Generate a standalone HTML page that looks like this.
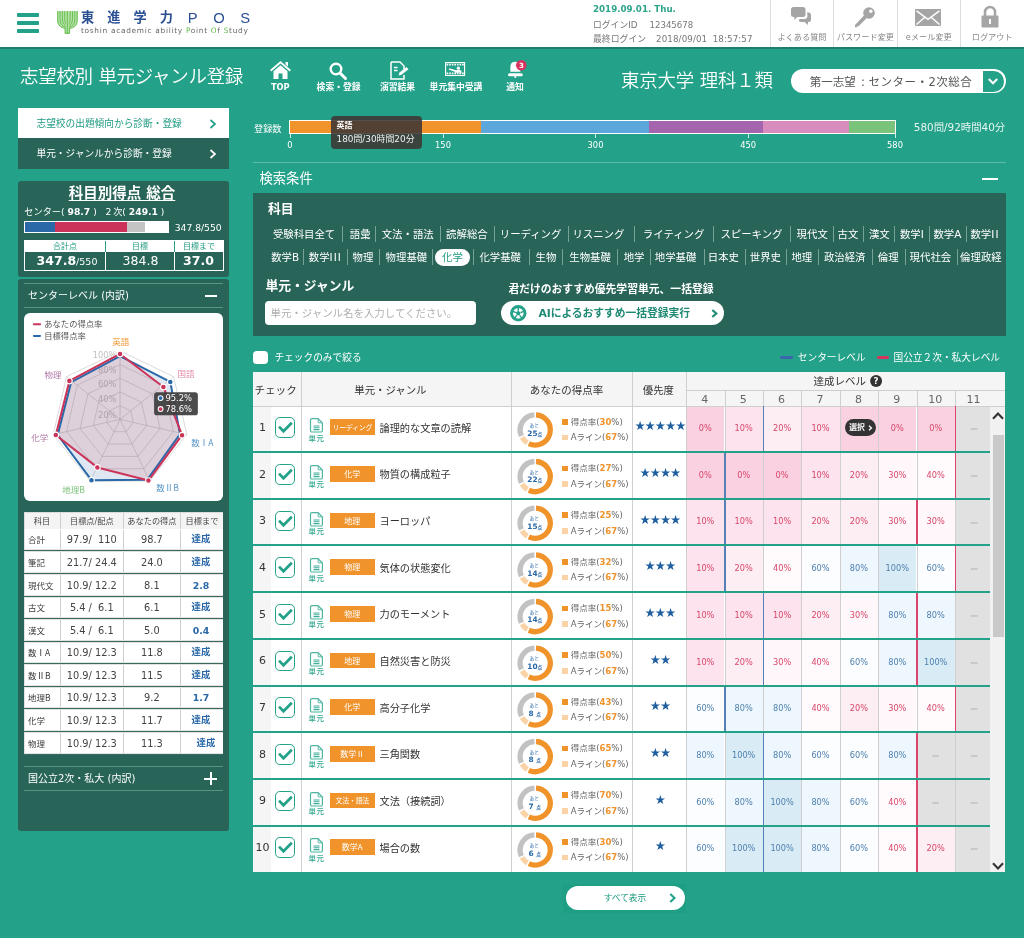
<!DOCTYPE html>
<html lang="ja"><head><meta charset="utf-8"><title>志望校別 単元ジャンル登録</title>
<style>
html,body{margin:0;padding:0}
body{width:1024px;height:938px;overflow:hidden;position:relative;background:#24a189;font-family:"DejaVu Sans","Liberation Sans","Noto Sans CJK JP",sans-serif;}
.t{position:absolute;white-space:nowrap}
.b{position:absolute;box-sizing:border-box}
svg{position:absolute;overflow:visible}
.j{font-family:"Noto Sans CJK JP",sans-serif}
.d{font-family:"DejaVu Sans","Liberation Sans",sans-serif}
</style></head><body>

<div class="b" style="left:0.0px;top:0.0px;width:1024.0px;height:46.5px;background:#fff;"></div>
<div class="b" style="left:0.0px;top:46.5px;width:1024.0px;height:2.0px;background:#1f7d6b;"></div>
<div class="b" style="left:17.0px;top:13.0px;width:21.5px;height:3.7px;background:#24a189;border-radius:.8px;"></div>
<div class="b" style="left:17.0px;top:21.1px;width:21.5px;height:3.7px;background:#24a189;border-radius:.8px;"></div>
<div class="b" style="left:17.0px;top:29.2px;width:21.5px;height:3.7px;background:#24a189;border-radius:.8px;"></div>
<svg style="left:56.700px;top:10.600px" width="20.900" height="22.650" viewBox="478 68 214 232"><path d="M478 68H692V152Q692 236 612 247V300H557V247Q478 236 478 152z" fill="#b5e2a8"/><g fill="none" stroke="#5fb946" stroke-width="9"><path d="M485 70V158Q485 240 565 246"/><path d="M685 70V158Q685 240 603 246"/><path d="M509 70V148Q509 224 565 230"/><path d="M661 70V148Q661 224 603 230"/><path d="M533 70V138Q533 208 565 214"/><path d="M637 70V138Q637 208 603 214"/><path d="M557 70V128Q557 192 565 198"/><path d="M613 70V128Q613 192 603 198"/><path d="M584 70V300"/><path d="M561 240V296H607V240"/></g></svg>
<div class="t " style="left:81.0px;top:9.3px;font-size:13.2px;line-height:18px;color:#2b4f93;font-weight:700;letter-spacing:13.1px;">東進学力</div>
<div class="t " style="left:187.7px;top:7.5px;font-size:14.8px;line-height:21px;color:#2b4f93;letter-spacing:15.6px;font-family:Liberation Sans,sans-serif;">POS</div>
<div class="t " style="left:81.0px;top:26.2px;font-size:7.4px;line-height:10px;color:#666;letter-spacing:.7px;">toshin academic ability <span style="color:#5fb946">P</span>oint <span style="color:#5fb946">O</span>f <span style="color:#5fb946">S</span>tudy</div>
<div class="t " style="left:593.0px;top:3.4px;font-size:8.7px;line-height:12px;color:#2fa38b;font-weight:700;">2019.09.01. Thu.</div>
<div class="t " style="left:593.0px;top:19.2px;font-size:8.8px;line-height:12px;color:#777;">ログインID</div>
<div class="t " style="left:649.5px;top:19.2px;font-size:8.6px;line-height:12px;color:#777;">12345678</div>
<div class="t " style="left:593.0px;top:32.5px;font-size:8.9px;line-height:12px;color:#777;">最終ログイン</div>
<div class="t " style="left:656.0px;top:32.5px;font-size:8.7px;line-height:12px;color:#777;word-spacing:2.5px;letter-spacing:.12px;">2018/09/01 18:57:57</div>
<div class="b" style="left:769.8px;top:0.0px;width:1.0px;height:46.5px;background:#ddd;"></div>
<div class="b" style="left:833.3px;top:0.0px;width:1.0px;height:46.5px;background:#ddd;"></div>
<div class="b" style="left:896.8px;top:0.0px;width:1.0px;height:46.5px;background:#ddd;"></div>
<div class="b" style="left:959.8px;top:0.0px;width:1.0px;height:46.5px;background:#ddd;"></div>
<div class="t " style="left:802.0px;transform:translateX(-50%);top:32.1px;font-size:8.2px;line-height:11px;color:#888;">よくある質問</div>
<div class="t " style="left:865.4px;transform:translateX(-50%);top:32.1px;font-size:8.2px;line-height:11px;color:#888;">パスワード変更</div>
<div class="t " style="left:928.8px;transform:translateX(-50%);top:32.1px;font-size:8.2px;line-height:11px;color:#888;">eメール変更</div>
<div class="t " style="left:992.2px;transform:translateX(-50%);top:32.1px;font-size:8.2px;line-height:11px;color:#888;">ログアウト</div>
<svg style="left:791px;top:7px" width="22" height="20" viewBox="0 0 22 20"><g fill="#a5a5a5">
<path d="M2.5 0h9.5a2.5 2.5 0 0 1 2.500 2.500v5a2.500 2.500 0 0 1-2.500 2.500h-5.500l-3.200 2.800v-2.800h-.8a2.500 2.500 0 0 1-2.500-2.500v-5a2.500 2.500 0 0 1 2.500-2.500z"/>
<path d="M16 5.500h1.500a2.500 2.500 0 0 1 2.500 2.500v4.500a2.500 2.500 0 0 1-2.500 2.500h-.5v3l-3.400-3h-3.600a2.500 2.500 0 0 1-2.400-1.800l1.200-1.100h4.200a3.500 3.500 0 0 0 3.500-3.500z"/></g></svg>
<svg style="left:854px;top:7px" width="22" height="21" viewBox="0 0 22 21"><g fill="#a5a5a5">
<circle cx="15" cy="6" r="5.800"/><path d="M10.200 8.300l2.600 2.600-8.300 8.300-1.200-.2-.1 1.300h-2.200v-2.200z"/></g><circle cx="16.800" cy="4.300" r="1.700" fill="#fff"/></svg>
<svg style="left:915px;top:9px" width="26" height="17" viewBox="0 0 26 17"><rect width="26" height="17" rx="1" fill="#a5a5a5"/>
<path d="M1.500 1.800l11.500 8.600 11.500-8.600M1.500 15.500l8.300-7.200M24.500 15.500l-8.300-7.200" fill="none" stroke="#fff" stroke-width="1.500"/></svg>
<svg style="left:981px;top:6px" width="18" height="22" viewBox="0 0 18 22"><path d="M4 10v-4a5 5 0 0 1 10 0v4" fill="none" stroke="#a5a5a5" stroke-width="2.600"/>
<rect x="0.500" y="9.500" width="17" height="12" rx="1" fill="#a5a5a5"/><rect x="8" y="13" width="2" height="5" fill="#fff"/></svg>
<div class="t " style="left:20.0px;top:63.5px;font-size:18.5px;line-height:26px;color:#fff;font-weight:350;letter-spacing:-.3px;">志望校別 単元ジャンル登録</div>
<div class="t " style="left:280.3px;transform:translateX(-50%);top:81.0px;font-size:8.3px;line-height:12px;color:#fff;font-weight:700;">TOP</div>
<div class="t " style="left:338.6px;transform:translateX(-50%);top:81.0px;font-size:8.8px;line-height:12px;color:#fff;font-weight:700;">検索・登録</div>
<div class="t " style="left:397.5px;transform:translateX(-50%);top:81.0px;font-size:8.8px;line-height:12px;color:#fff;font-weight:700;">演習結果</div>
<div class="t " style="left:456.0px;transform:translateX(-50%);top:81.0px;font-size:8.8px;line-height:12px;color:#fff;font-weight:700;">単元集中受講</div>
<div class="t " style="left:515.0px;transform:translateX(-50%);top:81.0px;font-size:8.8px;line-height:12px;color:#fff;font-weight:700;">通知</div>
<svg style="left:270px;top:61px" width="21" height="18" viewBox="0 0 21 18"><g fill="#fff">
<path d="M10.500 0l10.500 9-1.300 1.500-9.200-7.900-9.200 7.900-1.300-1.500z"/><path d="M15.500 1h2.500v4.500l-2.500-2.200z"/>
<path d="M10.500 4.300l7 6v7.700h-5v-5.500h-4v5.500h-5v-7.700z"/></g></svg>
<svg style="left:329px;top:62px" width="18" height="18" viewBox="0 0 18 18"><circle cx="7" cy="7" r="5.300" fill="none" stroke="#fff" stroke-width="2.400"/><path d="M11 11l5.500 5.500" stroke="#fff" stroke-width="3" stroke-linecap="round"/></svg>
<svg style="left:390px;top:61px" width="20" height="19" viewBox="0 0 20 19"><path d="M1 1h9l4 4v4M14 14v4h-13v-17" fill="none" stroke="#fff" stroke-width="1.500"/>
<path d="M4 6.500h3.500M4 9.500h3.500" stroke="#fff" stroke-width="1.400"/><path d="M8.500 14.500l1-3 7-5.500 2 2.200-7 5.500z" fill="#fff"/></svg>
<svg style="left:445.400px;top:62px" width="20.160" height="14.060" viewBox="200 68 172 120"><rect x="205" y="73" width="162" height="110" fill="none" stroke="#fff" stroke-width="10"/>
<path d="M214 91h146M214 166h146" stroke="#fff" stroke-width="15" stroke-dasharray="14 8"/>
<circle cx="314" cy="121" r="14" fill="#fff"/><path d="M284 160l4-20q26-10 50 0l5 20z" fill="#fff"/><path d="M236 121l58 17-3 15-58-19z" fill="#fff"/></svg>
<svg style="left:508.100px;top:61px" width="15.230" height="17.580" viewBox="735 55 130 150"><g fill="#fff"><path d="M755 147V108Q755 62 797 62Q840 62 840 108V147z"/>
<circle cx="797" cy="191" r="9"/></g><rect x="735" y="160" width="126" height="26" rx="13" fill="#fff"/>
<circle cx="848" cy="92" r="45" fill="#d8345f"/></svg>
<div class="t " style="left:521.5px;transform:translateX(-50%);top:60.5px;font-size:7px;line-height:10px;color:#fff;font-weight:700;">3</div>
<div class="t " style="left:621.0px;top:68.2px;font-size:18.4px;line-height:26px;color:#fff;font-weight:350;letter-spacing:-.15px;">東京大学 理科１類</div>
<div class="b" style="left:790.7px;top:69.2px;width:215.2px;height:24.2px;background:#fff;border-radius:12.1px;"></div>
<div class="t " style="left:809.8px;top:73.6px;font-size:11.5px;line-height:16px;color:#555;">第一志望 <span style="margin:0 3.600px 0 1.500px">:</span><span style="letter-spacing:.5px">センター・2次総合</span></div>
<div class="b" style="left:983.2px;top:71.0px;width:20.8px;height:20.6px;background:#24a189;border-radius:0 10.3px 10.3px 0;"></div>
<svg style="left:987.500px;top:78.300px" width="10" height="7" viewBox="0 0 10 7"><path d="M.8 1l4.200 4.200 4.200-4.200" fill="none" stroke="#fff" stroke-width="2.100"/></svg>
<div class="b" style="left:18.0px;top:108.4px;width:211.0px;height:30.0px;background:#fff;"></div>
<div class="b" style="left:18.0px;top:138.4px;width:211.0px;height:30.2px;background:#286558;"></div>
<div class="t " style="left:36.5px;top:116.6px;font-size:9.7px;line-height:14px;color:#1f9a82;">志望校の出題傾向から診断・登録</div>
<div class="t " style="left:36.5px;top:146.9px;font-size:9.7px;line-height:14px;color:#fff;">単元・ジャンルから診断・登録</div>
<svg style="left:209px;top:119px" width="8" height="10" viewBox="0 0 8 10"><path d="M1.500 1l4.500 4-4.500 4" fill="none" stroke="#24a189" stroke-width="1.700"/></svg>
<svg style="left:209px;top:149px" width="8" height="10" viewBox="0 0 8 10"><path d="M1.500 1l4.500 4-4.500 4" fill="none" stroke="#fff" stroke-width="1.700"/></svg>
<div class="b" style="left:18.0px;top:181.0px;width:211.0px;height:95.5px;background:#286558;border-radius:3px;"></div>
<div class="t " style="left:122.0px;transform:translateX(-50%);top:182.5px;font-size:14.5px;line-height:20px;color:#fff;font-weight:700;text-decoration:underline;text-underline-offset:2px;text-decoration-thickness:1px;">科目別得点 総合</div>
<div class="t " style="left:24.3px;top:205.0px;font-size:9.2px;line-height:13px;color:#fff;">センター( <b>98.7</b> ) &nbsp;&nbsp;2<span style="margin-left:1.800px">次</span>( <b>249.1</b> )</div>
<div class="b" style="left:23.5px;top:220.7px;width:145.3px;height:12.3px;background:#fff;border:1px solid #fff;"></div>
<div class="b" style="left:24.8px;top:221.8px;width:30.2px;height:10.1px;background:#2a68a8;"></div>
<div class="b" style="left:55.0px;top:221.8px;width:71.6px;height:10.1px;background:#cc3358;"></div>
<div class="b" style="left:126.6px;top:221.8px;width:18.4px;height:10.1px;background:#c4c4c4;"></div>
<div class="t " style="left:174.7px;top:220.9px;font-size:9.2px;line-height:13px;color:#fff;">347.8/550</div>
<div class="b" style="left:23.5px;top:240.2px;width:200.3px;height:30.6px;background:#fff;"></div>
<div class="b" style="left:24.5px;top:252.0px;width:80.4px;height:17.9px;background:#286558;"></div>
<div class="b" style="left:105.9px;top:252.0px;width:68.3px;height:17.9px;background:#286558;"></div>
<div class="b" style="left:175.2px;top:252.0px;width:47.6px;height:17.9px;background:#286558;"></div>
<div class="b" style="left:104.9px;top:241.0px;width:1.0px;height:11.0px;background:#24a189;"></div>
<div class="b" style="left:174.2px;top:241.0px;width:1.0px;height:11.0px;background:#24a189;"></div>
<div class="t " style="left:65.0px;transform:translateX(-50%);top:240.5px;font-size:8px;line-height:11px;color:#1f9a82;">合計点</div>
<div class="t " style="left:140.0px;transform:translateX(-50%);top:240.5px;font-size:8px;line-height:11px;color:#1f9a82;">目標</div>
<div class="t " style="left:199.0px;transform:translateX(-50%);top:240.5px;font-size:8px;line-height:11px;color:#1f9a82;">目標まで</div>
<div class="t " style="left:67.0px;transform:translateX(-50%);top:252.4px;font-size:9.5px;line-height:18px;color:#fff;"><b style="font-size:12.5px">347.8</b>/550</div>
<div class="t " style="left:140.5px;transform:translateX(-50%);top:252.4px;font-size:12.5px;line-height:18px;color:#fff;">384.8</div>
<div class="t " style="left:198.5px;transform:translateX(-50%);top:252.4px;font-size:12.5px;line-height:18px;color:#fff;font-weight:700;">37.0</div>
<div class="b" style="left:18.0px;top:279.0px;width:211.0px;height:552.0px;background:#286558;border-radius:3px;"></div>
<div class="b" style="left:24.0px;top:282.8px;width:199.0px;height:0.8px;background:#5a9285;"></div>
<div class="b" style="left:24.0px;top:306.8px;width:199.0px;height:0.8px;background:#5a9285;"></div>
<div class="t " style="left:28.0px;top:289.3px;font-size:10px;line-height:14px;color:#fff;">センターレベル (内訳)</div>
<div class="b" style="left:204.6px;top:295.3px;width:12.4px;height:2.0px;background:#fff;"></div>
<div class="b" style="left:24.3px;top:313.3px;width:198.7px;height:187.4px;background:#fff;border-radius:6px;"></div>
<svg class="j" style="left:24px;top:312px" width="200" height="190.070" viewBox="0 0 987 938">
<g stroke="#bababa" stroke-width="2.600" fill="none" opacity="1">
<polygon points="474.0,462.4 526.9,487.9 539.9,545.0 503.3,590.9 444.7,590.9 408.1,545.0 421.1,487.9"/>
<polygon points="474.0,394.8 579.7,445.7 605.8,560.1 532.7,651.8 415.3,651.8 342.2,560.1 368.3,445.7"/>
<polygon points="474.0,327.2 632.6,403.6 671.7,575.1 562.0,712.7 386.0,712.7 276.3,575.1 315.4,403.6"/>
<polygon points="474.0,259.6 685.4,361.4 737.6,590.2 591.3,773.6 356.7,773.6 210.4,590.2 262.6,361.4"/>
<polygon points="474.0,192.0 738.3,319.3 803.5,605.2 620.7,834.5 327.3,834.5 144.5,605.2 209.7,319.3"/>
<line x1="474" y1="530" x2="474.0" y2="192.0"/>
<line x1="474" y1="530" x2="738.3" y2="319.3"/>
<line x1="474" y1="530" x2="803.5" y2="605.2"/>
<line x1="474" y1="530" x2="620.7" y2="834.5"/>
<line x1="474" y1="530" x2="327.3" y2="834.5"/>
<line x1="474" y1="530" x2="144.5" y2="605.2"/>
<line x1="474" y1="530" x2="209.7" y2="319.3"/>
</g>
<g class="d" font-size="41" fill="#c2c2c2" text-anchor="end">
<text x="456" y="226">100%</text>
<text x="456" y="301">80%</text>
<text x="456" y="371">60%</text>
<text x="456" y="446">40%</text>
<text x="456" y="524">20%</text>
</g>
<polygon points="474,218 722,345 770,603 608,828 333,830 166,607 233,346" fill="rgba(42,104,168,.15)"/>
<polygon points="474,207 688,370 780,608 614,832 362,767 157,607 224,340" fill="rgba(215,90,100,.17)"/>
<polygon points="474,218 722,345 770,603 608,828 333,830 166,607 233,346" fill="none" stroke="#2a68a8" stroke-width="10" stroke-linejoin="round"/>
<polygon points="474,207 688,370 780,608 614,832 362,767 157,607 224,340" fill="none" stroke="#cc3358" stroke-width="10" stroke-linejoin="round"/>
<circle cx="722" cy="345" r="14" fill="#2a68a8" stroke="#fff" stroke-width="5.500"/>
<circle cx="333" cy="830" r="14" fill="#2a68a8" stroke="#fff" stroke-width="5.500"/>
<circle cx="474" cy="207" r="14" fill="#cc3358" stroke="#fff" stroke-width="5.500"/>
<circle cx="688" cy="370" r="14" fill="#cc3358" stroke="#fff" stroke-width="5.500"/>
<circle cx="780" cy="608" r="14" fill="#cc3358" stroke="#fff" stroke-width="5.500"/>
<circle cx="614" cy="832" r="14" fill="#cc3358" stroke="#fff" stroke-width="5.500"/>
<circle cx="362" cy="767" r="14" fill="#cc3358" stroke="#fff" stroke-width="5.500"/>
<circle cx="157" cy="607" r="14" fill="#cc3358" stroke="#fff" stroke-width="5.500"/>
<circle cx="224" cy="340" r="14" fill="#cc3358" stroke="#fff" stroke-width="5.500"/>
<g font-size="42" text-anchor="middle">
<text x="478" y="163" fill="#f0932b">英語</text>
<text x="800" y="323" fill="#e58aa8">国語</text>
<text x="880" y="663" fill="#5b97c9">数ⅠA</text>
<text x="708" y="885" fill="#5b97c9">数ⅡB</text>
<text x="245" y="895" fill="#7cc47a">地理B</text>
<text x="78" y="635" fill="#b27aa8">化学</text>
<text x="143" y="328" fill="#b27aa8">物理</text>
</g>
<rect x="642" y="396" width="216" height="114" rx="14" fill="rgba(60,60,60,.92)"/>
<circle cx="674" cy="425" r="12" fill="#2a68a8" stroke="#fff" stroke-width="5"/><circle cx="674" cy="479" r="12" fill="#cc3358" stroke="#fff" stroke-width="5"/>
<g class="d" font-size="41.500" fill="#fff"><text x="698" y="440">95.2%</text><text x="698" y="494">78.6%</text></g>
<rect x="44" y="56" width="40" height="10" rx="4" fill="#cc3358"/><rect x="44" y="113" width="40" height="10" rx="4" fill="#2a68a8"/>
<g font-size="41" fill="#555"><text x="100" y="75">あなたの得点率</text><text x="100" y="133">目標得点率</text></g>
</svg>
<div class="b" style="left:23.8px;top:511.9px;width:199.6px;height:242.9px;background:#3a6a5f;"></div>
<div class="b" style="left:23.8px;top:511.9px;width:199.6px;height:17.5px;background:#dcdcdc;"></div>
<div class="b" style="left:24.6px;top:512.7px;width:198.0px;height:16.2px;background:#f4f4f4;"></div>
<div class="b" style="left:59.7px;top:512.7px;width:1.0px;height:16.2px;background:#cfcfcf;"></div>
<div class="b" style="left:122.8px;top:512.7px;width:1.0px;height:16.2px;background:#cfcfcf;"></div>
<div class="b" style="left:180.1px;top:512.7px;width:1.0px;height:16.2px;background:#cfcfcf;"></div>
<div class="t " style="left:42.0px;transform:translateX(-50%);top:515.6px;font-size:8.2px;line-height:11px;color:#444;">科目</div>
<div class="t " style="left:91.8px;transform:translateX(-50%);top:515.6px;font-size:8.2px;line-height:11px;color:#444;">目標点/配点</div>
<div class="t " style="left:151.9px;transform:translateX(-50%);top:515.6px;font-size:8.2px;line-height:11px;color:#444;">あなたの得点</div>
<div class="t " style="left:202.0px;transform:translateX(-50%);top:515.6px;font-size:8.2px;line-height:11px;color:#444;">目標まで</div>
<div class="b" style="left:23.8px;top:529.0px;width:199.6px;height:21.0px;background:#e2e2e2;"></div>
<div class="b" style="left:24.6px;top:529.0px;width:198.0px;height:20.2px;background:#fff;"></div>
<div class="b" style="left:59.7px;top:529.8px;width:1.0px;height:19.4px;background:#cfcfcf;"></div>
<div class="b" style="left:122.8px;top:529.8px;width:1.0px;height:19.4px;background:#cfcfcf;"></div>
<div class="b" style="left:180.1px;top:529.8px;width:1.0px;height:19.4px;background:#cfcfcf;"></div>
<div class="t j" style="left:28.0px;top:533.0px;font-size:8.5px;line-height:12px;color:#3a3a3a;">合計</div>
<div class="t " style="left:91.8px;transform:translateX(-50%);top:533.0px;font-size:9.8px;line-height:14px;color:#444;">97.9/&nbsp; 110</div>
<div class="t " style="left:151.9px;transform:translateX(-50%);top:533.0px;font-size:9.8px;line-height:14px;color:#444;">98.7</div>
<div class="t " style="left:201.0px;transform:translateX(-50%);top:532.0px;font-size:9.4px;line-height:14px;color:#2a68a8;font-weight:700;">達成</div>
<div class="b" style="left:23.8px;top:551.0px;width:199.6px;height:22.0px;background:#e2e2e2;"></div>
<div class="b" style="left:24.6px;top:551.8px;width:198.0px;height:20.4px;background:#fff;"></div>
<div class="b" style="left:59.7px;top:551.8px;width:1.0px;height:20.4px;background:#cfcfcf;"></div>
<div class="b" style="left:122.8px;top:551.8px;width:1.0px;height:20.4px;background:#cfcfcf;"></div>
<div class="b" style="left:180.1px;top:551.8px;width:1.0px;height:20.4px;background:#cfcfcf;"></div>
<div class="t j" style="left:28.0px;top:556.0px;font-size:8.5px;line-height:12px;color:#3a3a3a;">筆記</div>
<div class="t " style="left:91.8px;transform:translateX(-50%);top:556.0px;font-size:9.8px;line-height:14px;color:#444;">21.7/ 24.4</div>
<div class="t " style="left:151.9px;transform:translateX(-50%);top:556.0px;font-size:9.8px;line-height:14px;color:#444;">24.0</div>
<div class="t " style="left:201.0px;transform:translateX(-50%);top:555.0px;font-size:9.4px;line-height:14px;color:#2a68a8;font-weight:700;">達成</div>
<div class="b" style="left:23.8px;top:574.0px;width:199.6px;height:22.0px;background:#e2e2e2;"></div>
<div class="b" style="left:24.6px;top:574.8px;width:198.0px;height:20.4px;background:#fff;"></div>
<div class="b" style="left:59.7px;top:574.8px;width:1.0px;height:20.4px;background:#cfcfcf;"></div>
<div class="b" style="left:122.8px;top:574.8px;width:1.0px;height:20.4px;background:#cfcfcf;"></div>
<div class="b" style="left:180.1px;top:574.8px;width:1.0px;height:20.4px;background:#cfcfcf;"></div>
<div class="t j" style="left:28.0px;top:579.0px;font-size:8.5px;line-height:12px;color:#3a3a3a;">現代文</div>
<div class="t " style="left:91.8px;transform:translateX(-50%);top:579.0px;font-size:9.8px;line-height:14px;color:#444;">10.9/ 12.2</div>
<div class="t " style="left:151.9px;transform:translateX(-50%);top:579.0px;font-size:9.8px;line-height:14px;color:#444;">8.1</div>
<div class="t " style="left:201.0px;transform:translateX(-50%);top:579.0px;font-size:9.4px;line-height:14px;color:#2a68a8;font-weight:700;">2.8</div>
<div class="b" style="left:23.8px;top:597.0px;width:199.6px;height:21.0px;background:#e2e2e2;"></div>
<div class="b" style="left:24.6px;top:597.8px;width:198.0px;height:19.4px;background:#fff;"></div>
<div class="b" style="left:59.7px;top:597.8px;width:1.0px;height:19.4px;background:#cfcfcf;"></div>
<div class="b" style="left:122.8px;top:597.8px;width:1.0px;height:19.4px;background:#cfcfcf;"></div>
<div class="b" style="left:180.1px;top:597.8px;width:1.0px;height:19.4px;background:#cfcfcf;"></div>
<div class="t j" style="left:28.0px;top:601.0px;font-size:8.5px;line-height:12px;color:#3a3a3a;">古文</div>
<div class="t " style="left:91.8px;transform:translateX(-50%);top:601.0px;font-size:9.8px;line-height:14px;color:#444;">5.4 /&nbsp; 6.1</div>
<div class="t " style="left:151.9px;transform:translateX(-50%);top:601.0px;font-size:9.8px;line-height:14px;color:#444;">6.1</div>
<div class="t " style="left:201.0px;transform:translateX(-50%);top:600.0px;font-size:9.4px;line-height:14px;color:#2a68a8;font-weight:700;">達成</div>
<div class="b" style="left:23.8px;top:619.0px;width:199.6px;height:22.0px;background:#e2e2e2;"></div>
<div class="b" style="left:24.6px;top:619.8px;width:198.0px;height:20.4px;background:#fff;"></div>
<div class="b" style="left:59.7px;top:619.8px;width:1.0px;height:20.4px;background:#cfcfcf;"></div>
<div class="b" style="left:122.8px;top:619.8px;width:1.0px;height:20.4px;background:#cfcfcf;"></div>
<div class="b" style="left:180.1px;top:619.8px;width:1.0px;height:20.4px;background:#cfcfcf;"></div>
<div class="t j" style="left:28.0px;top:624.0px;font-size:8.5px;line-height:12px;color:#3a3a3a;">漢文</div>
<div class="t " style="left:91.8px;transform:translateX(-50%);top:624.0px;font-size:9.8px;line-height:14px;color:#444;">5.4 /&nbsp; 6.1</div>
<div class="t " style="left:151.9px;transform:translateX(-50%);top:624.0px;font-size:9.8px;line-height:14px;color:#444;">5.0</div>
<div class="t " style="left:201.0px;transform:translateX(-50%);top:624.0px;font-size:9.4px;line-height:14px;color:#2a68a8;font-weight:700;">0.4</div>
<div class="b" style="left:23.8px;top:642.0px;width:199.6px;height:21.0px;background:#e2e2e2;"></div>
<div class="b" style="left:24.6px;top:642.8px;width:198.0px;height:19.4px;background:#fff;"></div>
<div class="b" style="left:59.7px;top:642.8px;width:1.0px;height:19.4px;background:#cfcfcf;"></div>
<div class="b" style="left:122.8px;top:642.8px;width:1.0px;height:19.4px;background:#cfcfcf;"></div>
<div class="b" style="left:180.1px;top:642.8px;width:1.0px;height:19.4px;background:#cfcfcf;"></div>
<div class="t j" style="left:28.0px;top:646.0px;font-size:8.5px;line-height:12px;color:#3a3a3a;">数ⅠA</div>
<div class="t " style="left:91.8px;transform:translateX(-50%);top:646.0px;font-size:9.8px;line-height:14px;color:#444;">10.9/ 12.3</div>
<div class="t " style="left:151.9px;transform:translateX(-50%);top:646.0px;font-size:9.8px;line-height:14px;color:#444;">11.8</div>
<div class="t " style="left:201.0px;transform:translateX(-50%);top:645.0px;font-size:9.4px;line-height:14px;color:#2a68a8;font-weight:700;">達成</div>
<div class="b" style="left:23.8px;top:664.0px;width:199.6px;height:22.0px;background:#e2e2e2;"></div>
<div class="b" style="left:24.6px;top:664.8px;width:198.0px;height:20.4px;background:#fff;"></div>
<div class="b" style="left:59.7px;top:664.8px;width:1.0px;height:20.4px;background:#cfcfcf;"></div>
<div class="b" style="left:122.8px;top:664.8px;width:1.0px;height:20.4px;background:#cfcfcf;"></div>
<div class="b" style="left:180.1px;top:664.8px;width:1.0px;height:20.4px;background:#cfcfcf;"></div>
<div class="t j" style="left:28.0px;top:669.0px;font-size:8.5px;line-height:12px;color:#3a3a3a;">数ⅡB</div>
<div class="t " style="left:91.8px;transform:translateX(-50%);top:669.0px;font-size:9.8px;line-height:14px;color:#444;">10.9/ 12.3</div>
<div class="t " style="left:151.9px;transform:translateX(-50%);top:669.0px;font-size:9.8px;line-height:14px;color:#444;">11.5</div>
<div class="t " style="left:201.0px;transform:translateX(-50%);top:668.0px;font-size:9.4px;line-height:14px;color:#2a68a8;font-weight:700;">達成</div>
<div class="b" style="left:23.8px;top:687.0px;width:199.6px;height:21.0px;background:#e2e2e2;"></div>
<div class="b" style="left:24.6px;top:687.8px;width:198.0px;height:19.4px;background:#fff;"></div>
<div class="b" style="left:59.7px;top:687.8px;width:1.0px;height:19.4px;background:#cfcfcf;"></div>
<div class="b" style="left:122.8px;top:687.8px;width:1.0px;height:19.4px;background:#cfcfcf;"></div>
<div class="b" style="left:180.1px;top:687.8px;width:1.0px;height:19.4px;background:#cfcfcf;"></div>
<div class="t j" style="left:28.0px;top:691.0px;font-size:8.5px;line-height:12px;color:#3a3a3a;">地理B</div>
<div class="t " style="left:91.8px;transform:translateX(-50%);top:691.0px;font-size:9.8px;line-height:14px;color:#444;">10.9/ 12.3</div>
<div class="t " style="left:151.9px;transform:translateX(-50%);top:691.0px;font-size:9.8px;line-height:14px;color:#444;">9.2</div>
<div class="t " style="left:201.0px;transform:translateX(-50%);top:691.0px;font-size:9.4px;line-height:14px;color:#2a68a8;font-weight:700;">1.7</div>
<div class="b" style="left:23.8px;top:709.0px;width:199.6px;height:22.0px;background:#e2e2e2;"></div>
<div class="b" style="left:24.6px;top:709.8px;width:198.0px;height:20.4px;background:#fff;"></div>
<div class="b" style="left:59.7px;top:709.8px;width:1.0px;height:20.4px;background:#cfcfcf;"></div>
<div class="b" style="left:122.8px;top:709.8px;width:1.0px;height:20.4px;background:#cfcfcf;"></div>
<div class="b" style="left:180.1px;top:709.8px;width:1.0px;height:20.4px;background:#cfcfcf;"></div>
<div class="t j" style="left:28.0px;top:714.0px;font-size:8.5px;line-height:12px;color:#3a3a3a;">化学</div>
<div class="t " style="left:91.8px;transform:translateX(-50%);top:714.0px;font-size:9.8px;line-height:14px;color:#444;">10.9/ 12.3</div>
<div class="t " style="left:151.9px;transform:translateX(-50%);top:714.0px;font-size:9.8px;line-height:14px;color:#444;">11.7</div>
<div class="t " style="left:201.0px;transform:translateX(-50%);top:713.0px;font-size:9.4px;line-height:14px;color:#2a68a8;font-weight:700;">達成</div>
<div class="b" style="left:23.8px;top:732.0px;width:199.6px;height:22.0px;background:#e2e2e2;"></div>
<div class="b" style="left:24.6px;top:732.8px;width:198.0px;height:20.4px;background:#fff;"></div>
<div class="b" style="left:59.7px;top:732.8px;width:1.0px;height:20.4px;background:#cfcfcf;"></div>
<div class="b" style="left:122.8px;top:732.8px;width:1.0px;height:20.4px;background:#cfcfcf;"></div>
<div class="b" style="left:180.1px;top:732.8px;width:1.0px;height:20.4px;background:#cfcfcf;"></div>
<div class="t j" style="left:28.0px;top:737.0px;font-size:8.5px;line-height:12px;color:#3a3a3a;">物理</div>
<div class="t " style="left:91.8px;transform:translateX(-50%);top:737.0px;font-size:9.8px;line-height:14px;color:#444;">10.9/ 12.3</div>
<div class="t " style="left:151.9px;transform:translateX(-50%);top:737.0px;font-size:9.8px;line-height:14px;color:#444;">11.3</div>
<div class="t " style="left:206.0px;transform:translateX(-50%);top:736.0px;font-size:9.4px;line-height:14px;color:#2a68a8;font-weight:700;">達成</div>
<div class="b" style="left:24.0px;top:766.2px;width:199.0px;height:0.8px;background:#5a9285;"></div>
<div class="b" style="left:24.0px;top:789.8px;width:199.0px;height:0.8px;background:#5a9285;"></div>
<div class="t " style="left:28.0px;top:771.5px;font-size:10px;line-height:14px;color:#fff;">国公立2次・私大 (内訳)</div>
<div class="b" style="left:204.0px;top:777.6px;width:13.0px;height:2.0px;background:#fff;"></div>
<div class="b" style="left:209.5px;top:772.1px;width:2.0px;height:13.0px;background:#fff;"></div>
<div class="t " style="left:254.0px;top:122.0px;font-size:9.2px;line-height:13px;color:#fff;">登録数</div>
<div class="b" style="left:288.8px;top:119.5px;width:607.4px;height:14.9px;background:#fff;"></div>
<div class="b" style="left:289.9px;top:120.7px;width:191.5px;height:12.5px;background:#f0932b;"></div>
<div class="b" style="left:481.4px;top:120.7px;width:167.6px;height:12.5px;background:#5ba7dc;"></div>
<div class="b" style="left:649.0px;top:120.7px;width:114.0px;height:12.5px;background:#a565ae;"></div>
<div class="b" style="left:763.0px;top:120.7px;width:86.0px;height:12.5px;background:#d88bbd;"></div>
<div class="b" style="left:849.0px;top:120.7px;width:46.0px;height:12.5px;background:#79c47a;"></div>
<div class="b" style="left:289.5px;top:134.4px;width:1.0px;height:4.1px;background:#cfeee6;"></div>
<div class="t " style="left:290.0px;transform:translateX(-50%);top:139.2px;font-size:8.3px;line-height:12px;color:#fff;">0</div>
<div class="b" style="left:442.5px;top:134.4px;width:1.0px;height:4.1px;background:#cfeee6;"></div>
<div class="t " style="left:443.0px;transform:translateX(-50%);top:139.2px;font-size:8.3px;line-height:12px;color:#fff;">150</div>
<div class="b" style="left:595.0px;top:134.4px;width:1.0px;height:4.1px;background:#cfeee6;"></div>
<div class="t " style="left:595.5px;transform:translateX(-50%);top:139.2px;font-size:8.3px;line-height:12px;color:#fff;">300</div>
<div class="b" style="left:747.7px;top:134.4px;width:1.0px;height:4.1px;background:#cfeee6;"></div>
<div class="t " style="left:748.2px;transform:translateX(-50%);top:139.2px;font-size:8.3px;line-height:12px;color:#fff;">450</div>
<div class="b" style="left:894.5px;top:134.4px;width:1.0px;height:4.1px;background:#cfeee6;"></div>
<div class="t " style="left:895.0px;transform:translateX(-50%);top:139.2px;font-size:8.3px;line-height:12px;color:#fff;">580</div>
<div class="b" style="left:330.6px;top:115.6px;width:91.0px;height:33.2px;background:rgba(60,55,52,.88);border-radius:4px;"></div>
<div class="t " style="left:336.5px;top:120.1px;font-size:8px;line-height:11px;color:#fff;font-weight:700;">英語</div>
<div class="t " style="left:336.5px;top:133.0px;font-size:8.9px;line-height:12px;color:#f0f0f0;">180問/30時間20分</div>
<div class="t " style="left:913.8px;top:119.8px;font-size:10.4px;line-height:15px;color:#e6f6f1;">580問/92時間40分</div>
<div class="b" style="left:253.0px;top:162.0px;width:753.0px;height:1.0px;background:#5dbba7;"></div>
<div class="t " style="left:259.5px;top:168.5px;font-size:13.3px;line-height:19px;color:#fff;">検索条件</div>
<div class="b" style="left:981.8px;top:178.3px;width:16.0px;height:2.2px;background:#fff;"></div>
<div class="b" style="left:253.0px;top:192.5px;width:753.0px;height:143.8px;background:#286558;"></div>
<div class="t " style="left:268.0px;top:199.8px;font-size:12.8px;line-height:18px;color:#fff;font-weight:700;">科目</div>
<div class="b" style="left:435.3px;top:249.2px;width:34.4px;height:17.2px;background:#fff;border-radius:9px;"></div>
<div class="b" style="left:341.8px;top:226.0px;width:1.0px;height:16.0px;background:#76a398;"></div>
<div class="b" style="left:375.0px;top:226.0px;width:1.0px;height:16.0px;background:#76a398;"></div>
<div class="b" style="left:439.5px;top:226.0px;width:1.0px;height:16.0px;background:#76a398;"></div>
<div class="b" style="left:493.8px;top:226.0px;width:1.0px;height:16.0px;background:#76a398;"></div>
<div class="b" style="left:567.5px;top:226.0px;width:1.0px;height:16.0px;background:#76a398;"></div>
<div class="b" style="left:634.2px;top:226.0px;width:1.0px;height:16.0px;background:#76a398;"></div>
<div class="b" style="left:712.5px;top:226.0px;width:1.0px;height:16.0px;background:#76a398;"></div>
<div class="b" style="left:790.3px;top:226.0px;width:1.0px;height:16.0px;background:#76a398;"></div>
<div class="b" style="left:832.5px;top:226.0px;width:1.0px;height:16.0px;background:#76a398;"></div>
<div class="b" style="left:863.0px;top:226.0px;width:1.0px;height:16.0px;background:#76a398;"></div>
<div class="b" style="left:894.2px;top:226.0px;width:1.0px;height:16.0px;background:#76a398;"></div>
<div class="b" style="left:929.0px;top:226.0px;width:1.0px;height:16.0px;background:#76a398;"></div>
<div class="b" style="left:965.7px;top:226.0px;width:1.0px;height:16.0px;background:#76a398;"></div>
<div class="t " style="left:304.1px;transform:translateX(-50%);top:226.5px;font-size:10.4px;line-height:15px;color:#fff;">受験科目全て</div>
<div class="t " style="left:360.2px;transform:translateX(-50%);top:226.5px;font-size:10.4px;line-height:15px;color:#fff;">語彙</div>
<div class="t " style="left:407.7px;transform:translateX(-50%);top:226.5px;font-size:10.4px;line-height:15px;color:#fff;">文法・語法</div>
<div class="t " style="left:466.9px;transform:translateX(-50%);top:226.5px;font-size:10.4px;line-height:15px;color:#fff;">読解総合</div>
<div class="t " style="left:530.6px;transform:translateX(-50%);top:226.5px;font-size:10.4px;line-height:15px;color:#fff;">リーディング</div>
<div class="t " style="left:598.4px;transform:translateX(-50%);top:226.5px;font-size:10.4px;line-height:15px;color:#fff;">リスニング</div>
<div class="t " style="left:673.6px;transform:translateX(-50%);top:226.5px;font-size:10.4px;line-height:15px;color:#fff;">ライティング</div>
<div class="t " style="left:751.4px;transform:translateX(-50%);top:226.5px;font-size:10.4px;line-height:15px;color:#fff;">スピーキング</div>
<div class="t " style="left:812.2px;transform:translateX(-50%);top:226.5px;font-size:10.4px;line-height:15px;color:#fff;">現代文</div>
<div class="t " style="left:847.9px;transform:translateX(-50%);top:226.5px;font-size:10.4px;line-height:15px;color:#fff;">古文</div>
<div class="t " style="left:879.3px;transform:translateX(-50%);top:226.5px;font-size:10.4px;line-height:15px;color:#fff;">漢文</div>
<div class="t " style="left:912.4px;transform:translateX(-50%);top:226.5px;font-size:10.4px;line-height:15px;color:#fff;">数学<span style="letter-spacing:1.100px">I</span></div>
<div class="t " style="left:947.4px;transform:translateX(-50%);top:226.5px;font-size:10.4px;line-height:15px;color:#fff;">数学A</div>
<div class="t " style="left:985.0px;transform:translateX(-50%);top:226.5px;font-size:10.4px;line-height:15px;color:#fff;">数学<span style="letter-spacing:1.100px">II</span></div>
<div class="b" style="left:303.2px;top:249.4px;width:1.0px;height:16.0px;background:#76a398;"></div>
<div class="b" style="left:346.5px;top:249.4px;width:1.0px;height:16.0px;background:#76a398;"></div>
<div class="b" style="left:379.0px;top:249.4px;width:1.0px;height:16.0px;background:#76a398;"></div>
<div class="b" style="left:432.1px;top:249.4px;width:1.0px;height:16.0px;background:#76a398;"></div>
<div class="b" style="left:473.1px;top:249.4px;width:1.0px;height:16.0px;background:#76a398;"></div>
<div class="b" style="left:529.3px;top:249.4px;width:1.0px;height:16.0px;background:#76a398;"></div>
<div class="b" style="left:562.2px;top:249.4px;width:1.0px;height:16.0px;background:#76a398;"></div>
<div class="b" style="left:617.2px;top:249.4px;width:1.0px;height:16.0px;background:#76a398;"></div>
<div class="b" style="left:650.1px;top:249.4px;width:1.0px;height:16.0px;background:#76a398;"></div>
<div class="b" style="left:703.5px;top:249.4px;width:1.0px;height:16.0px;background:#76a398;"></div>
<div class="b" style="left:745.0px;top:249.4px;width:1.0px;height:16.0px;background:#76a398;"></div>
<div class="b" style="left:785.5px;top:249.4px;width:1.0px;height:16.0px;background:#76a398;"></div>
<div class="b" style="left:817.5px;top:249.4px;width:1.0px;height:16.0px;background:#76a398;"></div>
<div class="b" style="left:871.9px;top:249.4px;width:1.0px;height:16.0px;background:#76a398;"></div>
<div class="b" style="left:904.5px;top:249.4px;width:1.0px;height:16.0px;background:#76a398;"></div>
<div class="b" style="left:956.5px;top:249.4px;width:1.0px;height:16.0px;background:#76a398;"></div>
<div class="t " style="left:285.2px;transform:translateX(-50%);top:249.9px;font-size:10.4px;line-height:15px;color:#fff;">数学B</div>
<div class="t " style="left:325.4px;transform:translateX(-50%);top:249.9px;font-size:10.4px;line-height:15px;color:#fff;">数学<span style="letter-spacing:1.100px">III</span></div>
<div class="t " style="left:362.9px;transform:translateX(-50%);top:249.9px;font-size:10.4px;line-height:15px;color:#fff;">物理</div>
<div class="t " style="left:406.4px;transform:translateX(-50%);top:249.9px;font-size:10.4px;line-height:15px;color:#fff;">物理基礎</div>
<div class="t " style="left:452.4px;transform:translateX(-50%);top:249.9px;font-size:10.4px;line-height:15px;color:#1f9a82;">化学</div>
<div class="t " style="left:500.2px;transform:translateX(-50%);top:249.9px;font-size:10.4px;line-height:15px;color:#fff;">化学基礎</div>
<div class="t " style="left:545.9px;transform:translateX(-50%);top:249.9px;font-size:10.4px;line-height:15px;color:#fff;">生物</div>
<div class="t " style="left:590.1px;transform:translateX(-50%);top:249.9px;font-size:10.4px;line-height:15px;color:#fff;">生物基礎</div>
<div class="t " style="left:634.1px;transform:translateX(-50%);top:249.9px;font-size:10.4px;line-height:15px;color:#fff;">地学</div>
<div class="t " style="left:675.6px;transform:translateX(-50%);top:249.9px;font-size:10.4px;line-height:15px;color:#fff;">地学基礎</div>
<div class="t " style="left:723.4px;transform:translateX(-50%);top:249.9px;font-size:10.4px;line-height:15px;color:#fff;">日本史</div>
<div class="t " style="left:765.4px;transform:translateX(-50%);top:249.9px;font-size:10.4px;line-height:15px;color:#fff;">世界史</div>
<div class="t " style="left:801.8px;transform:translateX(-50%);top:249.9px;font-size:10.4px;line-height:15px;color:#fff;">地理</div>
<div class="t " style="left:844.7px;transform:translateX(-50%);top:249.9px;font-size:10.4px;line-height:15px;color:#fff;">政治経済</div>
<div class="t " style="left:888.2px;transform:translateX(-50%);top:249.9px;font-size:10.4px;line-height:15px;color:#fff;">倫理</div>
<div class="t " style="left:930.4px;transform:translateX(-50%);top:249.9px;font-size:10.4px;line-height:15px;color:#fff;">現代社会</div>
<div class="t " style="left:980.9px;transform:translateX(-50%);top:249.9px;font-size:10.4px;line-height:15px;color:#fff;">倫理政経</div>
<div class="t " style="left:265.4px;top:277.0px;font-size:12.8px;line-height:18px;color:#fff;font-weight:700;">単元・ジャンル</div>
<div class="b" style="left:264.6px;top:300.8px;width:211.4px;height:24.2px;background:#fff;border-radius:4px;"></div>
<div class="t " style="left:270.5px;top:305.5px;font-size:10.45px;line-height:15px;color:#b0b0b0;">単元・ジャンル名を入力してください。</div>
<div class="t " style="left:508.4px;top:282.0px;font-size:10.8px;line-height:15px;color:#fff;font-weight:700;">君だけのおすすめ優先学習単元、一括登録</div>
<div class="b" style="left:500.5px;top:301.2px;width:223.9px;height:24.2px;background:#fff;border-radius:13px;"></div>
<svg style="left:509.500px;top:305.300px" width="16.500" height="16.500" viewBox="-8.250 -8.250 16.500 16.500"><circle r="8.200" fill="#24a189"/><circle r="5.300" fill="#fff"/>
<path d="M0 -2.600L2.470 -.8 1.530 2.100H-1.530L-2.470 -.8z" fill="#24a189"/><path d="M0 -6v3.400M5.700 -1.850l-3.230 1.050M3.530 4.850l-2 -2.750M-3.530 4.850l2 -2.750M-5.700 -1.850l3.230 1.050" stroke="#24a189" stroke-width="1.500"/></svg>
<div class="t " style="left:538.4px;top:305.8px;font-size:10.8px;line-height:15px;color:#1f8a74;font-weight:700;letter-spacing:-.05px;">AIによるおすすめ一括登録実行</div>
<svg style="left:711px;top:309px" width="7" height="9" viewBox="0 0 7 9"><path d="M1.300 1l4 3.500-4 3.500" fill="none" stroke="#1f8a74" stroke-width="2.200"/></svg>
<div class="b" style="left:253.3px;top:351.0px;width:14.7px;height:13.2px;background:#fff;border-radius:3.800px;"></div>
<div class="t " style="left:274.4px;top:350.6px;font-size:9.7px;line-height:14px;color:#fff;">チェックのみで絞る</div>
<div class="b" style="left:780.0px;top:356.2px;width:12.8px;height:2.8px;background:#3a66ad;border-radius:1.400px;"></div>
<div class="t " style="left:797.8px;top:350.6px;font-size:9.7px;line-height:14px;color:#fff;">センターレベル</div>
<div class="b" style="left:876.7px;top:356.2px;width:12.1px;height:2.8px;background:#d8345f;border-radius:1.400px;"></div>
<div class="t " style="left:893.5px;top:350.6px;font-size:9.7px;line-height:14px;color:#fff;">国公立２次・私大レベル</div>
<div class="b" style="left:563.2px;top:884.0px;width:122.7px;height:28.7px;background:rgba(10,150,110,.22);"></div>
<div class="b" style="left:565.5px;top:886.2px;width:119.0px;height:24.2px;background:#fff;border-radius:12.100px;"></div>
<div class="t " style="left:625.0px;transform:translateX(-50%);top:891.5px;font-size:8.7px;line-height:12px;color:#1f9a82;">すべて表示</div>
<svg style="left:669px;top:893px" width="7" height="10" viewBox="0 0 7 10"><path d="M1.300 1l4.200 4-4.200 4" fill="none" stroke="#24a189" stroke-width="2.100"/></svg>
<div class="b" style="left:253.1px;top:371.9px;width:752.2px;height:499.7px;background:#fff;"></div>
<div class="b" style="left:253.1px;top:371.9px;width:752.2px;height:34.4px;background:#f5f5f5;"></div>
<div class="b" style="left:253.1px;top:405.8px;width:752.2px;height:1.0px;background:#cfcfcf;"></div>
<div class="b" style="left:686.6px;top:390.3px;width:318.7px;height:1.0px;background:#cfcfcf;"></div>
<div class="b" style="left:300.9px;top:371.9px;width:1.0px;height:499.7px;background:#cfcfcf;"></div>
<div class="b" style="left:511.0px;top:371.9px;width:1.0px;height:499.7px;background:#cfcfcf;"></div>
<div class="b" style="left:632.1px;top:371.9px;width:1.0px;height:499.7px;background:#cfcfcf;"></div>
<div class="b" style="left:686.1px;top:371.9px;width:1.0px;height:499.7px;background:#cfcfcf;"></div>
<div class="b" style="left:724.5px;top:390.8px;width:1.0px;height:480.8px;background:#cfcfcf;"></div>
<div class="b" style="left:762.9px;top:390.8px;width:1.0px;height:480.8px;background:#cfcfcf;"></div>
<div class="b" style="left:801.3px;top:390.8px;width:1.0px;height:480.8px;background:#cfcfcf;"></div>
<div class="b" style="left:839.7px;top:390.8px;width:1.0px;height:480.8px;background:#cfcfcf;"></div>
<div class="b" style="left:878.1px;top:390.8px;width:1.0px;height:480.8px;background:#cfcfcf;"></div>
<div class="b" style="left:916.5px;top:390.8px;width:1.0px;height:480.8px;background:#cfcfcf;"></div>
<div class="b" style="left:954.9px;top:390.8px;width:1.0px;height:480.8px;background:#cfcfcf;"></div>
<div class="t " style="left:275.6px;transform:translateX(-50%);top:382.8px;font-size:10.6px;line-height:15px;color:#333;">チェック</div>
<div class="t " style="left:390.4px;transform:translateX(-50%);top:382.8px;font-size:10.4px;line-height:15px;color:#333;">単元・ジャンル</div>
<div class="t " style="left:566.6px;transform:translateX(-50%);top:382.8px;font-size:10.5px;line-height:15px;color:#333;">あなたの得点率</div>
<div class="t " style="left:658.4px;transform:translateX(-50%);top:382.8px;font-size:10.4px;line-height:15px;color:#333;">優先度</div>
<div class="t " style="left:813.5px;top:373.5px;font-size:10.5px;line-height:15px;color:#333;">達成レベル</div>
<svg style="left:869.800px;top:375px" width="12.200" height="12.200" viewBox="0 0 12.200 12.200"><circle cx="6.100" cy="6.100" r="6" fill="#333"/></svg>
<div class="t " style="left:875.9px;transform:translateX(-50%);top:375.3px;font-size:8.6px;line-height:12px;color:#fff;font-weight:700;">?</div>
<div class="t " style="left:704.8px;transform:translateX(-50%);top:391.7px;font-size:11px;line-height:15px;color:#666;">4</div>
<div class="t " style="left:743.2px;transform:translateX(-50%);top:391.7px;font-size:11px;line-height:15px;color:#666;">5</div>
<div class="t " style="left:781.6px;transform:translateX(-50%);top:391.7px;font-size:11px;line-height:15px;color:#666;">6</div>
<div class="t " style="left:820.0px;transform:translateX(-50%);top:391.7px;font-size:11px;line-height:15px;color:#666;">7</div>
<div class="t " style="left:858.4px;transform:translateX(-50%);top:391.7px;font-size:11px;line-height:15px;color:#666;">8</div>
<div class="t " style="left:896.8px;transform:translateX(-50%);top:391.7px;font-size:11px;line-height:15px;color:#666;">9</div>
<div class="t " style="left:935.2px;transform:translateX(-50%);top:391.7px;font-size:11px;line-height:15px;color:#666;">10</div>
<div class="t " style="left:973.6px;transform:translateX(-50%);top:391.7px;font-size:11px;line-height:15px;color:#666;">11</div>
<div class="b" style="left:253.1px;top:406.8px;width:17.9px;height:464.8px;background:#f5f5f5;"></div>
<div class="b" style="left:990.4px;top:406.8px;width:14.9px;height:464.8px;background:#f1f1f1;"></div>
<div class="b" style="left:993.0px;top:435.0px;width:10.7px;height:202.0px;background:#c9c9c9;"></div>
<svg style="left:992px;top:411.500px" width="12" height="8" viewBox="0 0 12 8"><path d="M1 6.800l5-5.300 5 5.300" fill="none" stroke="#333" stroke-width="2.100"/></svg>
<svg style="left:992px;top:862px" width="12" height="8" viewBox="0 0 12 8"><path d="M1 1.200l5 5.300 5-5.300" fill="none" stroke="#333" stroke-width="2.100"/></svg>
<div class="b" style="left:687.1px;top:406.8px;width:37.4px;height:44.9px;background:#f9d1e1;"></div>
<div class="t " style="left:705.3px;transform:translateX(-50%);top:423.1px;font-size:8.2px;line-height:11px;color:#d9466a;">0%</div>
<div class="b" style="left:725.5px;top:406.8px;width:37.4px;height:44.9px;background:#fce3ed;"></div>
<div class="t " style="left:743.7px;transform:translateX(-50%);top:423.1px;font-size:8.2px;line-height:11px;color:#d9466a;">10%</div>
<div class="b" style="left:763.9px;top:406.8px;width:37.4px;height:44.9px;background:#fdeef3;"></div>
<div class="t " style="left:782.1px;transform:translateX(-50%);top:423.1px;font-size:8.2px;line-height:11px;color:#d9466a;">20%</div>
<div class="b" style="left:802.3px;top:406.8px;width:37.4px;height:44.9px;background:#fce3ed;"></div>
<div class="t " style="left:820.5px;transform:translateX(-50%);top:423.1px;font-size:8.2px;line-height:11px;color:#d9466a;">10%</div>
<div class="b" style="left:840.7px;top:406.8px;width:37.4px;height:44.9px;background:#f9d1e1;"></div>
<div class="b" style="left:844.7px;top:419.3px;width:31.0px;height:17.0px;background:#333;border-radius:8.500px;"></div>
<div class="t " style="left:857.1px;transform:translateX(-50%);top:422.3px;font-size:7.8px;line-height:11px;color:#fff;font-weight:700;">選択</div>
<svg style="left:867.7px;top:424.9px" width="5" height="6" viewBox="0 0 5 6"><path d="M1 .8l2.500 2.200-2.500 2.200" fill="none" stroke="#fff" stroke-width="1.300"/></svg>
<div class="b" style="left:879.1px;top:406.8px;width:37.4px;height:44.9px;background:#f9d1e1;"></div>
<div class="t " style="left:897.3px;transform:translateX(-50%);top:423.1px;font-size:8.2px;line-height:11px;color:#d9466a;">0%</div>
<div class="b" style="left:917.5px;top:406.8px;width:37.4px;height:44.9px;background:#f9d1e1;"></div>
<div class="t " style="left:935.7px;transform:translateX(-50%);top:423.1px;font-size:8.2px;line-height:11px;color:#d9466a;">0%</div>
<div class="b" style="left:955.9px;top:406.8px;width:34.5px;height:44.9px;background:#e1e1e1;"></div>
<div class="t " style="left:974.1px;transform:translateX(-50%);top:424.4px;font-size:7.4px;line-height:10px;color:#8a8a8a;">—</div>
<div class="b" style="left:762.5px;top:406.3px;width:1.8px;height:45.4px;background:#5580b8;"></div>
<div class="b" style="left:954.5px;top:406.3px;width:1.8px;height:45.4px;background:#d9456b;"></div>
<div class="t " style="left:262.6px;transform:translateX(-50%);top:420.0px;font-size:11px;line-height:15px;color:#333;">1</div>
<div class="b" style="left:275.0px;top:417.4px;width:20.3px;height:20.5px;background:#fff;border:1.900px solid #24a189;border-radius:4.800px;"></div>
<svg style="left:275px;top:417.4px" width="20.300" height="20.500" viewBox="0 0 20.300 20.500"><path d="M4 9.600l4.500 4.700 8.300-8.600" fill="none" stroke="#24a189" stroke-width="2.700"/></svg>
<svg style="left:310px;top:418.3px" width="13" height="15" viewBox="0 0 13 15"><path d="M2 .6h6l4.400 4.400v7.500a1.500 1.500 0 0 1-1.500 1.500h-8.900a1.500 1.500 0 0 1-1.500-1.500v-10.400a1.500 1.500 0 0 1 1.500-1.500z" fill="#fff" stroke="#4db5a0" stroke-width="1.200"/><path d="M8.200 .8v4h4" fill="none" stroke="#4db5a0" stroke-width=".9"/><path d="M3.500 8h6M3.500 9.800h6M3.500 11.600h6" stroke="#3fae98" stroke-width="1.100"/></svg>
<div class="t " style="left:316.4px;transform:translateX(-50%);top:433.7px;font-size:7.4px;line-height:10px;color:#32a68f;font-weight:500;letter-spacing:.5px;">単元</div>
<div class="b" style="left:329.5px;top:419.3px;width:45.7px;height:15.5px;background:#f0932b;"></div>
<div class="t j" style="left:352.3px;transform:translateX(-50%);top:421.9px;font-size:7px;line-height:10px;color:#fff;letter-spacing:-.3px;">リーディング</div>
<div class="t " style="left:379.5px;top:421.6px;font-size:10.2px;line-height:14px;color:#333;">論理的な文章の読解</div>
<svg style="left:0;top:0" width="1" height="1"><g fill="none" stroke-width="5.300"><path d="M535.99 414.82A15.1 15.1 0 1 1 528.82 443.59" stroke="#f0932b"/><path d="M527.42 442.84A15.1 15.1 0 0 1 522.12 437.45" stroke="#f9d2a6"/><path d="M521.41 436.04A15.1 15.1 0 0 1 534.41 414.82" stroke="#c2c2c2"/></g></svg>
<div class="t " style="left:534.2px;transform:translateX(-50%);top:423.0px;font-size:4.6px;line-height:6px;color:#2a68a8;">あと</div>
<div class="t " style="left:534.7px;transform:translateX(-50%);top:428.5px;font-size:7.4px;line-height:10px;color:#2a68a8;font-weight:700;">25<span style="font-size:4.600px">点</span></div>
<div class="b" style="left:561.7px;top:419.0px;width:5.9px;height:5.8px;background:#f0932b;"></div>
<div class="b" style="left:561.7px;top:434.5px;width:5.9px;height:5.8px;background:#f9d2a6;"></div>
<div class="t " style="left:570.7px;top:415.5px;font-size:8.5px;line-height:12px;color:#666;">得点率(<b style="color:#f0932b">30</b>%)</div>
<div class="t " style="left:570.7px;top:431.3px;font-size:8.5px;line-height:12px;color:#666;">Aライン(<b style="color:#f0932b">67</b>%)</div>
<div class="t j" style="left:660.4px;transform:translateX(-50%);top:418.4px;font-size:10.2px;line-height:14px;color:#1f5f9f;">★★★★★</div>
<div class="b" style="left:687.1px;top:452.2px;width:37.4px;height:46.3px;background:#f9d1e1;"></div>
<div class="t " style="left:705.3px;transform:translateX(-50%);top:469.8px;font-size:8.2px;line-height:11px;color:#d9466a;">0%</div>
<div class="b" style="left:725.5px;top:452.2px;width:37.4px;height:46.3px;background:#f9d1e1;"></div>
<div class="t " style="left:743.7px;transform:translateX(-50%);top:469.8px;font-size:8.2px;line-height:11px;color:#d9466a;">0%</div>
<div class="b" style="left:763.9px;top:452.2px;width:37.4px;height:46.3px;background:#f9d1e1;"></div>
<div class="t " style="left:782.1px;transform:translateX(-50%);top:469.8px;font-size:8.2px;line-height:11px;color:#d9466a;">0%</div>
<div class="b" style="left:802.3px;top:452.2px;width:37.4px;height:46.3px;background:#fce3ed;"></div>
<div class="t " style="left:820.5px;transform:translateX(-50%);top:469.8px;font-size:8.2px;line-height:11px;color:#d9466a;">10%</div>
<div class="b" style="left:840.7px;top:452.2px;width:37.4px;height:46.3px;background:#fdeef3;"></div>
<div class="t " style="left:858.9px;transform:translateX(-50%);top:469.8px;font-size:8.2px;line-height:11px;color:#d9466a;">20%</div>
<div class="b" style="left:879.1px;top:452.2px;width:37.4px;height:46.3px;background:#fff7f9;"></div>
<div class="t " style="left:897.3px;transform:translateX(-50%);top:469.8px;font-size:8.2px;line-height:11px;color:#d9466a;">30%</div>
<div class="b" style="left:917.5px;top:452.2px;width:37.4px;height:46.3px;background:#fffbfc;"></div>
<div class="t " style="left:935.7px;transform:translateX(-50%);top:469.8px;font-size:8.2px;line-height:11px;color:#d9466a;">40%</div>
<div class="b" style="left:955.9px;top:452.2px;width:34.5px;height:46.3px;background:#e1e1e1;"></div>
<div class="t " style="left:974.1px;transform:translateX(-50%);top:471.1px;font-size:7.4px;line-height:10px;color:#8a8a8a;">—</div>
<div class="b" style="left:724.1px;top:451.7px;width:1.8px;height:46.8px;background:#5580b8;"></div>
<div class="b" style="left:954.5px;top:451.7px;width:1.8px;height:46.8px;background:#d9456b;"></div>
<div class="t " style="left:262.6px;transform:translateX(-50%);top:466.7px;font-size:11px;line-height:15px;color:#333;">2</div>
<div class="b" style="left:275.0px;top:464.1px;width:20.3px;height:20.5px;background:#fff;border:1.900px solid #24a189;border-radius:4.800px;"></div>
<svg style="left:275px;top:464.1px" width="20.300" height="20.500" viewBox="0 0 20.300 20.500"><path d="M4 9.600l4.500 4.700 8.300-8.600" fill="none" stroke="#24a189" stroke-width="2.700"/></svg>
<svg style="left:310px;top:465.0px" width="13" height="15" viewBox="0 0 13 15"><path d="M2 .6h6l4.400 4.400v7.500a1.500 1.500 0 0 1-1.500 1.500h-8.900a1.500 1.500 0 0 1-1.500-1.500v-10.400a1.500 1.500 0 0 1 1.500-1.500z" fill="#fff" stroke="#4db5a0" stroke-width="1.200"/><path d="M8.200 .8v4h4" fill="none" stroke="#4db5a0" stroke-width=".9"/><path d="M3.500 8h6M3.500 9.800h6M3.500 11.600h6" stroke="#3fae98" stroke-width="1.100"/></svg>
<div class="t " style="left:316.4px;transform:translateX(-50%);top:480.4px;font-size:7.4px;line-height:10px;color:#32a68f;font-weight:500;letter-spacing:.5px;">単元</div>
<div class="b" style="left:329.5px;top:466.0px;width:45.7px;height:15.5px;background:#f0932b;"></div>
<div class="t j" style="left:352.3px;transform:translateX(-50%);top:468.1px;font-size:8px;line-height:11px;color:#fff;">化学</div>
<div class="t " style="left:379.5px;top:468.3px;font-size:10.2px;line-height:14px;color:#333;">物質の構成粒子</div>
<svg style="left:0;top:0" width="1" height="1"><g fill="none" stroke-width="5.300"><path d="M535.99 461.49A15.1 15.1 0 1 1 528.82 490.26" stroke="#f0932b"/><path d="M527.42 489.51A15.1 15.1 0 0 1 522.12 484.12" stroke="#f9d2a6"/><path d="M521.41 482.71A15.1 15.1 0 0 1 534.41 461.49" stroke="#c2c2c2"/></g></svg>
<div class="t " style="left:534.2px;transform:translateX(-50%);top:469.7px;font-size:4.6px;line-height:6px;color:#2a68a8;">あと</div>
<div class="t " style="left:534.7px;transform:translateX(-50%);top:475.2px;font-size:7.4px;line-height:10px;color:#2a68a8;font-weight:700;">22<span style="font-size:4.600px">点</span></div>
<div class="b" style="left:561.7px;top:465.7px;width:5.9px;height:5.8px;background:#f0932b;"></div>
<div class="b" style="left:561.7px;top:481.2px;width:5.9px;height:5.8px;background:#f9d2a6;"></div>
<div class="t " style="left:570.7px;top:462.2px;font-size:8.5px;line-height:12px;color:#666;">得点率(<b style="color:#f0932b">27</b>%)</div>
<div class="t " style="left:570.7px;top:478.0px;font-size:8.5px;line-height:12px;color:#666;">Aライン(<b style="color:#f0932b">67</b>%)</div>
<div class="t j" style="left:660.4px;transform:translateX(-50%);top:465.1px;font-size:10.2px;line-height:14px;color:#1f5f9f;">★★★★</div>
<div class="b" style="left:687.1px;top:499.0px;width:37.4px;height:46.3px;background:#fce3ed;"></div>
<div class="t " style="left:705.3px;transform:translateX(-50%);top:516.4px;font-size:8.2px;line-height:11px;color:#d9466a;">10%</div>
<div class="b" style="left:725.5px;top:499.0px;width:37.4px;height:46.3px;background:#fce3ed;"></div>
<div class="t " style="left:743.7px;transform:translateX(-50%);top:516.4px;font-size:8.2px;line-height:11px;color:#d9466a;">10%</div>
<div class="b" style="left:763.9px;top:499.0px;width:37.4px;height:46.3px;background:#fce3ed;"></div>
<div class="t " style="left:782.1px;transform:translateX(-50%);top:516.4px;font-size:8.2px;line-height:11px;color:#d9466a;">10%</div>
<div class="b" style="left:802.3px;top:499.0px;width:37.4px;height:46.3px;background:#fdeef3;"></div>
<div class="t " style="left:820.5px;transform:translateX(-50%);top:516.4px;font-size:8.2px;line-height:11px;color:#d9466a;">20%</div>
<div class="b" style="left:840.7px;top:499.0px;width:37.4px;height:46.3px;background:#fdeef3;"></div>
<div class="t " style="left:858.9px;transform:translateX(-50%);top:516.4px;font-size:8.2px;line-height:11px;color:#d9466a;">20%</div>
<div class="b" style="left:879.1px;top:499.0px;width:37.4px;height:46.3px;background:#fff7f9;"></div>
<div class="t " style="left:897.3px;transform:translateX(-50%);top:516.4px;font-size:8.2px;line-height:11px;color:#d9466a;">30%</div>
<div class="b" style="left:917.5px;top:499.0px;width:37.4px;height:46.3px;background:#fff7f9;"></div>
<div class="t " style="left:935.7px;transform:translateX(-50%);top:516.4px;font-size:8.2px;line-height:11px;color:#d9466a;">30%</div>
<div class="b" style="left:955.9px;top:499.0px;width:34.5px;height:46.3px;background:#e1e1e1;"></div>
<div class="t " style="left:974.1px;transform:translateX(-50%);top:517.7px;font-size:7.4px;line-height:10px;color:#8a8a8a;">—</div>
<div class="b" style="left:724.1px;top:498.5px;width:1.8px;height:46.8px;background:#5580b8;"></div>
<div class="b" style="left:916.1px;top:498.5px;width:1.8px;height:46.8px;background:#d9456b;"></div>
<div class="t " style="left:262.6px;transform:translateX(-50%);top:513.3px;font-size:11px;line-height:15px;color:#333;">3</div>
<div class="b" style="left:275.0px;top:510.7px;width:20.3px;height:20.5px;background:#fff;border:1.900px solid #24a189;border-radius:4.800px;"></div>
<svg style="left:275px;top:510.7px" width="20.300" height="20.500" viewBox="0 0 20.300 20.500"><path d="M4 9.600l4.500 4.700 8.300-8.600" fill="none" stroke="#24a189" stroke-width="2.700"/></svg>
<svg style="left:310px;top:511.6px" width="13" height="15" viewBox="0 0 13 15"><path d="M2 .6h6l4.400 4.400v7.500a1.500 1.500 0 0 1-1.500 1.500h-8.900a1.500 1.500 0 0 1-1.500-1.500v-10.400a1.500 1.500 0 0 1 1.500-1.500z" fill="#fff" stroke="#4db5a0" stroke-width="1.200"/><path d="M8.200 .8v4h4" fill="none" stroke="#4db5a0" stroke-width=".9"/><path d="M3.500 8h6M3.500 9.800h6M3.500 11.600h6" stroke="#3fae98" stroke-width="1.100"/></svg>
<div class="t " style="left:316.4px;transform:translateX(-50%);top:527.0px;font-size:7.4px;line-height:10px;color:#32a68f;font-weight:500;letter-spacing:.5px;">単元</div>
<div class="b" style="left:329.5px;top:512.6px;width:45.7px;height:15.5px;background:#f0932b;"></div>
<div class="t j" style="left:352.3px;transform:translateX(-50%);top:514.7px;font-size:8px;line-height:11px;color:#fff;">地理</div>
<div class="t " style="left:379.5px;top:514.9px;font-size:10.2px;line-height:14px;color:#333;">ヨーロッパ</div>
<svg style="left:0;top:0" width="1" height="1"><g fill="none" stroke-width="5.300"><path d="M535.99 508.16A15.1 15.1 0 1 1 528.82 536.93" stroke="#f0932b"/><path d="M527.42 536.18A15.1 15.1 0 0 1 522.12 530.79" stroke="#f9d2a6"/><path d="M521.41 529.38A15.1 15.1 0 0 1 534.41 508.16" stroke="#c2c2c2"/></g></svg>
<div class="t " style="left:534.2px;transform:translateX(-50%);top:516.3px;font-size:4.6px;line-height:6px;color:#2a68a8;">あと</div>
<div class="t " style="left:534.7px;transform:translateX(-50%);top:521.8px;font-size:7.4px;line-height:10px;color:#2a68a8;font-weight:700;">15<span style="font-size:4.600px">点</span></div>
<div class="b" style="left:561.7px;top:512.3px;width:5.9px;height:5.8px;background:#f0932b;"></div>
<div class="b" style="left:561.7px;top:527.8px;width:5.9px;height:5.8px;background:#f9d2a6;"></div>
<div class="t " style="left:570.7px;top:508.8px;font-size:8.5px;line-height:12px;color:#666;">得点率(<b style="color:#f0932b">25</b>%)</div>
<div class="t " style="left:570.7px;top:524.6px;font-size:8.5px;line-height:12px;color:#666;">Aライン(<b style="color:#f0932b">67</b>%)</div>
<div class="t j" style="left:660.4px;transform:translateX(-50%);top:511.7px;font-size:10.2px;line-height:14px;color:#1f5f9f;">★★★★</div>
<div class="b" style="left:687.1px;top:545.7px;width:37.4px;height:46.3px;background:#fce3ed;"></div>
<div class="t " style="left:705.3px;transform:translateX(-50%);top:563.1px;font-size:8.2px;line-height:11px;color:#d9466a;">10%</div>
<div class="b" style="left:725.5px;top:545.7px;width:37.4px;height:46.3px;background:#fdeef3;"></div>
<div class="t " style="left:743.7px;transform:translateX(-50%);top:563.1px;font-size:8.2px;line-height:11px;color:#d9466a;">20%</div>
<div class="b" style="left:763.9px;top:545.7px;width:37.4px;height:46.3px;background:#fffbfc;"></div>
<div class="t " style="left:782.1px;transform:translateX(-50%);top:563.1px;font-size:8.2px;line-height:11px;color:#d9466a;">40%</div>
<div class="b" style="left:802.3px;top:545.7px;width:37.4px;height:46.3px;background:#fbfdff;"></div>
<div class="t " style="left:820.5px;transform:translateX(-50%);top:563.1px;font-size:8.2px;line-height:11px;color:#4d7fae;">60%</div>
<div class="b" style="left:840.7px;top:545.7px;width:37.4px;height:46.3px;background:#eef7fd;"></div>
<div class="t " style="left:858.9px;transform:translateX(-50%);top:563.1px;font-size:8.2px;line-height:11px;color:#4d7fae;">80%</div>
<div class="b" style="left:879.1px;top:545.7px;width:37.4px;height:46.3px;background:#d9ecf6;"></div>
<div class="t " style="left:897.3px;transform:translateX(-50%);top:563.1px;font-size:8.2px;line-height:11px;color:#4d7fae;">100%</div>
<div class="b" style="left:917.5px;top:545.7px;width:37.4px;height:46.3px;background:#fbfdff;"></div>
<div class="t " style="left:935.7px;transform:translateX(-50%);top:563.1px;font-size:8.2px;line-height:11px;color:#4d7fae;">60%</div>
<div class="b" style="left:955.9px;top:545.7px;width:34.5px;height:46.3px;background:#e1e1e1;"></div>
<div class="t " style="left:974.1px;transform:translateX(-50%);top:564.4px;font-size:7.4px;line-height:10px;color:#8a8a8a;">—</div>
<div class="b" style="left:724.1px;top:545.2px;width:1.8px;height:46.8px;background:#5580b8;"></div>
<div class="b" style="left:954.5px;top:545.2px;width:1.8px;height:46.8px;background:#d9456b;"></div>
<div class="t " style="left:262.6px;transform:translateX(-50%);top:560.0px;font-size:11px;line-height:15px;color:#333;">4</div>
<div class="b" style="left:275.0px;top:557.4px;width:20.3px;height:20.5px;background:#fff;border:1.900px solid #24a189;border-radius:4.800px;"></div>
<svg style="left:275px;top:557.4px" width="20.300" height="20.500" viewBox="0 0 20.300 20.500"><path d="M4 9.600l4.500 4.700 8.300-8.600" fill="none" stroke="#24a189" stroke-width="2.700"/></svg>
<svg style="left:310px;top:558.3px" width="13" height="15" viewBox="0 0 13 15"><path d="M2 .6h6l4.400 4.400v7.500a1.500 1.500 0 0 1-1.500 1.500h-8.900a1.500 1.500 0 0 1-1.500-1.500v-10.400a1.500 1.500 0 0 1 1.500-1.500z" fill="#fff" stroke="#4db5a0" stroke-width="1.200"/><path d="M8.200 .8v4h4" fill="none" stroke="#4db5a0" stroke-width=".9"/><path d="M3.500 8h6M3.500 9.800h6M3.500 11.600h6" stroke="#3fae98" stroke-width="1.100"/></svg>
<div class="t " style="left:316.4px;transform:translateX(-50%);top:573.7px;font-size:7.4px;line-height:10px;color:#32a68f;font-weight:500;letter-spacing:.5px;">単元</div>
<div class="b" style="left:329.5px;top:559.3px;width:45.7px;height:15.5px;background:#f0932b;"></div>
<div class="t j" style="left:352.3px;transform:translateX(-50%);top:561.4px;font-size:8px;line-height:11px;color:#fff;">物理</div>
<div class="t " style="left:379.5px;top:561.6px;font-size:10.2px;line-height:14px;color:#333;">気体の状態変化</div>
<svg style="left:0;top:0" width="1" height="1"><g fill="none" stroke-width="5.300"><path d="M535.99 554.83A15.1 15.1 0 1 1 528.82 583.60" stroke="#f0932b"/><path d="M527.42 582.85A15.1 15.1 0 0 1 522.12 577.46" stroke="#f9d2a6"/><path d="M521.41 576.05A15.1 15.1 0 0 1 534.41 554.83" stroke="#c2c2c2"/></g></svg>
<div class="t " style="left:534.2px;transform:translateX(-50%);top:563.0px;font-size:4.6px;line-height:6px;color:#2a68a8;">あと</div>
<div class="t " style="left:534.7px;transform:translateX(-50%);top:568.5px;font-size:7.4px;line-height:10px;color:#2a68a8;font-weight:700;">14<span style="font-size:4.600px">点</span></div>
<div class="b" style="left:561.7px;top:559.0px;width:5.9px;height:5.8px;background:#f0932b;"></div>
<div class="b" style="left:561.7px;top:574.5px;width:5.9px;height:5.8px;background:#f9d2a6;"></div>
<div class="t " style="left:570.7px;top:555.5px;font-size:8.5px;line-height:12px;color:#666;">得点率(<b style="color:#f0932b">32</b>%)</div>
<div class="t " style="left:570.7px;top:571.3px;font-size:8.5px;line-height:12px;color:#666;">Aライン(<b style="color:#f0932b">67</b>%)</div>
<div class="t j" style="left:660.4px;transform:translateX(-50%);top:558.4px;font-size:10.2px;line-height:14px;color:#1f5f9f;">★★★</div>
<div class="b" style="left:687.1px;top:592.5px;width:37.4px;height:46.3px;background:#fce3ed;"></div>
<div class="t " style="left:705.3px;transform:translateX(-50%);top:609.8px;font-size:8.2px;line-height:11px;color:#d9466a;">10%</div>
<div class="b" style="left:725.5px;top:592.5px;width:37.4px;height:46.3px;background:#fce3ed;"></div>
<div class="t " style="left:743.7px;transform:translateX(-50%);top:609.8px;font-size:8.2px;line-height:11px;color:#d9466a;">10%</div>
<div class="b" style="left:763.9px;top:592.5px;width:37.4px;height:46.3px;background:#fce3ed;"></div>
<div class="t " style="left:782.1px;transform:translateX(-50%);top:609.8px;font-size:8.2px;line-height:11px;color:#d9466a;">10%</div>
<div class="b" style="left:802.3px;top:592.5px;width:37.4px;height:46.3px;background:#fdeef3;"></div>
<div class="t " style="left:820.5px;transform:translateX(-50%);top:609.8px;font-size:8.2px;line-height:11px;color:#d9466a;">20%</div>
<div class="b" style="left:840.7px;top:592.5px;width:37.4px;height:46.3px;background:#fff7f9;"></div>
<div class="t " style="left:858.9px;transform:translateX(-50%);top:609.8px;font-size:8.2px;line-height:11px;color:#d9466a;">30%</div>
<div class="b" style="left:879.1px;top:592.5px;width:37.4px;height:46.3px;background:#eef7fd;"></div>
<div class="t " style="left:897.3px;transform:translateX(-50%);top:609.8px;font-size:8.2px;line-height:11px;color:#4d7fae;">80%</div>
<div class="b" style="left:917.5px;top:592.5px;width:37.4px;height:46.3px;background:#eef7fd;"></div>
<div class="t " style="left:935.7px;transform:translateX(-50%);top:609.8px;font-size:8.2px;line-height:11px;color:#4d7fae;">80%</div>
<div class="b" style="left:955.9px;top:592.5px;width:34.5px;height:46.3px;background:#e1e1e1;"></div>
<div class="t " style="left:974.1px;transform:translateX(-50%);top:611.1px;font-size:7.4px;line-height:10px;color:#8a8a8a;">—</div>
<div class="b" style="left:762.5px;top:592.0px;width:1.8px;height:46.8px;background:#5580b8;"></div>
<div class="b" style="left:916.1px;top:592.0px;width:1.8px;height:46.8px;background:#d9456b;"></div>
<div class="t " style="left:262.6px;transform:translateX(-50%);top:606.7px;font-size:11px;line-height:15px;color:#333;">5</div>
<div class="b" style="left:275.0px;top:604.1px;width:20.3px;height:20.5px;background:#fff;border:1.900px solid #24a189;border-radius:4.800px;"></div>
<svg style="left:275px;top:604.1px" width="20.300" height="20.500" viewBox="0 0 20.300 20.500"><path d="M4 9.600l4.500 4.700 8.300-8.600" fill="none" stroke="#24a189" stroke-width="2.700"/></svg>
<svg style="left:310px;top:605.0px" width="13" height="15" viewBox="0 0 13 15"><path d="M2 .6h6l4.400 4.400v7.500a1.500 1.500 0 0 1-1.500 1.500h-8.900a1.500 1.500 0 0 1-1.500-1.500v-10.400a1.500 1.500 0 0 1 1.500-1.500z" fill="#fff" stroke="#4db5a0" stroke-width="1.200"/><path d="M8.200 .8v4h4" fill="none" stroke="#4db5a0" stroke-width=".9"/><path d="M3.500 8h6M3.500 9.800h6M3.500 11.600h6" stroke="#3fae98" stroke-width="1.100"/></svg>
<div class="t " style="left:316.4px;transform:translateX(-50%);top:620.4px;font-size:7.4px;line-height:10px;color:#32a68f;font-weight:500;letter-spacing:.5px;">単元</div>
<div class="b" style="left:329.5px;top:606.0px;width:45.7px;height:15.5px;background:#f0932b;"></div>
<div class="t j" style="left:352.3px;transform:translateX(-50%);top:608.1px;font-size:8px;line-height:11px;color:#fff;">物理</div>
<div class="t " style="left:379.5px;top:608.3px;font-size:10.2px;line-height:14px;color:#333;">力のモーメント</div>
<svg style="left:0;top:0" width="1" height="1"><g fill="none" stroke-width="5.300"><path d="M535.99 601.50A15.1 15.1 0 1 1 528.82 630.27" stroke="#f0932b"/><path d="M527.42 629.52A15.1 15.1 0 0 1 522.12 624.13" stroke="#f9d2a6"/><path d="M521.41 622.72A15.1 15.1 0 0 1 534.41 601.50" stroke="#c2c2c2"/></g></svg>
<div class="t " style="left:534.2px;transform:translateX(-50%);top:609.7px;font-size:4.6px;line-height:6px;color:#2a68a8;">あと</div>
<div class="t " style="left:534.7px;transform:translateX(-50%);top:615.2px;font-size:7.4px;line-height:10px;color:#2a68a8;font-weight:700;">14<span style="font-size:4.600px">点</span></div>
<div class="b" style="left:561.7px;top:605.7px;width:5.9px;height:5.8px;background:#f0932b;"></div>
<div class="b" style="left:561.7px;top:621.2px;width:5.9px;height:5.8px;background:#f9d2a6;"></div>
<div class="t " style="left:570.7px;top:602.2px;font-size:8.5px;line-height:12px;color:#666;">得点率(<b style="color:#f0932b">15</b>%)</div>
<div class="t " style="left:570.7px;top:618.0px;font-size:8.5px;line-height:12px;color:#666;">Aライン(<b style="color:#f0932b">67</b>%)</div>
<div class="t j" style="left:660.4px;transform:translateX(-50%);top:605.1px;font-size:10.2px;line-height:14px;color:#1f5f9f;">★★★</div>
<div class="b" style="left:687.1px;top:639.2px;width:37.4px;height:46.3px;background:#fce3ed;"></div>
<div class="t " style="left:705.3px;transform:translateX(-50%);top:656.5px;font-size:8.2px;line-height:11px;color:#d9466a;">10%</div>
<div class="b" style="left:725.5px;top:639.2px;width:37.4px;height:46.3px;background:#fdeef3;"></div>
<div class="t " style="left:743.7px;transform:translateX(-50%);top:656.5px;font-size:8.2px;line-height:11px;color:#d9466a;">20%</div>
<div class="b" style="left:763.9px;top:639.2px;width:37.4px;height:46.3px;background:#fff7f9;"></div>
<div class="t " style="left:782.1px;transform:translateX(-50%);top:656.5px;font-size:8.2px;line-height:11px;color:#d9466a;">30%</div>
<div class="b" style="left:802.3px;top:639.2px;width:37.4px;height:46.3px;background:#fffbfc;"></div>
<div class="t " style="left:820.5px;transform:translateX(-50%);top:656.5px;font-size:8.2px;line-height:11px;color:#d9466a;">40%</div>
<div class="b" style="left:840.7px;top:639.2px;width:37.4px;height:46.3px;background:#fbfdff;"></div>
<div class="t " style="left:858.9px;transform:translateX(-50%);top:656.5px;font-size:8.2px;line-height:11px;color:#4d7fae;">60%</div>
<div class="b" style="left:879.1px;top:639.2px;width:37.4px;height:46.3px;background:#eef7fd;"></div>
<div class="t " style="left:897.3px;transform:translateX(-50%);top:656.5px;font-size:8.2px;line-height:11px;color:#4d7fae;">80%</div>
<div class="b" style="left:917.5px;top:639.2px;width:37.4px;height:46.3px;background:#d9ecf6;"></div>
<div class="t " style="left:935.7px;transform:translateX(-50%);top:656.5px;font-size:8.2px;line-height:11px;color:#4d7fae;">100%</div>
<div class="b" style="left:955.9px;top:639.2px;width:34.5px;height:46.3px;background:#e1e1e1;"></div>
<div class="t " style="left:974.1px;transform:translateX(-50%);top:657.8px;font-size:7.4px;line-height:10px;color:#8a8a8a;">—</div>
<div class="b" style="left:762.5px;top:638.7px;width:1.8px;height:46.8px;background:#5580b8;"></div>
<div class="b" style="left:916.1px;top:638.7px;width:1.8px;height:46.8px;background:#d9456b;"></div>
<div class="t " style="left:262.6px;transform:translateX(-50%);top:653.4px;font-size:11px;line-height:15px;color:#333;">6</div>
<div class="b" style="left:275.0px;top:650.8px;width:20.3px;height:20.5px;background:#fff;border:1.900px solid #24a189;border-radius:4.800px;"></div>
<svg style="left:275px;top:650.8px" width="20.300" height="20.500" viewBox="0 0 20.300 20.500"><path d="M4 9.600l4.500 4.700 8.300-8.600" fill="none" stroke="#24a189" stroke-width="2.700"/></svg>
<svg style="left:310px;top:651.7px" width="13" height="15" viewBox="0 0 13 15"><path d="M2 .6h6l4.400 4.400v7.500a1.500 1.500 0 0 1-1.500 1.500h-8.900a1.500 1.500 0 0 1-1.500-1.500v-10.400a1.500 1.500 0 0 1 1.500-1.500z" fill="#fff" stroke="#4db5a0" stroke-width="1.200"/><path d="M8.200 .8v4h4" fill="none" stroke="#4db5a0" stroke-width=".9"/><path d="M3.500 8h6M3.500 9.800h6M3.500 11.600h6" stroke="#3fae98" stroke-width="1.100"/></svg>
<div class="t " style="left:316.4px;transform:translateX(-50%);top:667.1px;font-size:7.4px;line-height:10px;color:#32a68f;font-weight:500;letter-spacing:.5px;">単元</div>
<div class="b" style="left:329.5px;top:652.7px;width:45.7px;height:15.5px;background:#f0932b;"></div>
<div class="t j" style="left:352.3px;transform:translateX(-50%);top:654.8px;font-size:8px;line-height:11px;color:#fff;">地理</div>
<div class="t " style="left:379.5px;top:655.0px;font-size:10.2px;line-height:14px;color:#333;">自然災害と防災</div>
<svg style="left:0;top:0" width="1" height="1"><g fill="none" stroke-width="5.300"><path d="M535.99 648.17A15.1 15.1 0 1 1 528.82 676.94" stroke="#f0932b"/><path d="M527.42 676.19A15.1 15.1 0 0 1 522.12 670.80" stroke="#f9d2a6"/><path d="M521.41 669.39A15.1 15.1 0 0 1 534.41 648.17" stroke="#c2c2c2"/></g></svg>
<div class="t " style="left:534.2px;transform:translateX(-50%);top:656.4px;font-size:4.6px;line-height:6px;color:#2a68a8;">あと</div>
<div class="t " style="left:534.7px;transform:translateX(-50%);top:661.9px;font-size:7.4px;line-height:10px;color:#2a68a8;font-weight:700;">10<span style="font-size:4.600px">点</span></div>
<div class="b" style="left:561.7px;top:652.4px;width:5.9px;height:5.8px;background:#f0932b;"></div>
<div class="b" style="left:561.7px;top:667.9px;width:5.9px;height:5.8px;background:#f9d2a6;"></div>
<div class="t " style="left:570.7px;top:648.9px;font-size:8.5px;line-height:12px;color:#666;">得点率(<b style="color:#f0932b">50</b>%)</div>
<div class="t " style="left:570.7px;top:664.7px;font-size:8.5px;line-height:12px;color:#666;">Aライン(<b style="color:#f0932b">67</b>%)</div>
<div class="t j" style="left:660.4px;transform:translateX(-50%);top:651.8px;font-size:10.2px;line-height:14px;color:#1f5f9f;">★★</div>
<div class="b" style="left:687.1px;top:686.0px;width:37.4px;height:46.3px;background:#fbfdff;"></div>
<div class="t " style="left:705.3px;transform:translateX(-50%);top:703.1px;font-size:8.2px;line-height:11px;color:#4d7fae;">60%</div>
<div class="b" style="left:725.5px;top:686.0px;width:37.4px;height:46.3px;background:#eef7fd;"></div>
<div class="t " style="left:743.7px;transform:translateX(-50%);top:703.1px;font-size:8.2px;line-height:11px;color:#4d7fae;">80%</div>
<div class="b" style="left:763.9px;top:686.0px;width:37.4px;height:46.3px;background:#eef7fd;"></div>
<div class="t " style="left:782.1px;transform:translateX(-50%);top:703.1px;font-size:8.2px;line-height:11px;color:#4d7fae;">80%</div>
<div class="b" style="left:802.3px;top:686.0px;width:37.4px;height:46.3px;background:#fffbfc;"></div>
<div class="t " style="left:820.5px;transform:translateX(-50%);top:703.1px;font-size:8.2px;line-height:11px;color:#d9466a;">40%</div>
<div class="b" style="left:840.7px;top:686.0px;width:37.4px;height:46.3px;background:#fdeef3;"></div>
<div class="t " style="left:858.9px;transform:translateX(-50%);top:703.1px;font-size:8.2px;line-height:11px;color:#d9466a;">20%</div>
<div class="b" style="left:879.1px;top:686.0px;width:37.4px;height:46.3px;background:#fff7f9;"></div>
<div class="t " style="left:897.3px;transform:translateX(-50%);top:703.1px;font-size:8.2px;line-height:11px;color:#d9466a;">30%</div>
<div class="b" style="left:917.5px;top:686.0px;width:37.4px;height:46.3px;background:#fffbfc;"></div>
<div class="t " style="left:935.7px;transform:translateX(-50%);top:703.1px;font-size:8.2px;line-height:11px;color:#d9466a;">40%</div>
<div class="b" style="left:955.9px;top:686.0px;width:34.5px;height:46.3px;background:#e1e1e1;"></div>
<div class="t " style="left:974.1px;transform:translateX(-50%);top:704.4px;font-size:7.4px;line-height:10px;color:#8a8a8a;">—</div>
<div class="b" style="left:724.1px;top:685.5px;width:1.8px;height:46.8px;background:#5580b8;"></div>
<div class="b" style="left:954.5px;top:685.5px;width:1.8px;height:46.8px;background:#d9456b;"></div>
<div class="t " style="left:262.6px;transform:translateX(-50%);top:700.0px;font-size:11px;line-height:15px;color:#333;">7</div>
<div class="b" style="left:275.0px;top:697.4px;width:20.3px;height:20.5px;background:#fff;border:1.900px solid #24a189;border-radius:4.800px;"></div>
<svg style="left:275px;top:697.4px" width="20.300" height="20.500" viewBox="0 0 20.300 20.500"><path d="M4 9.600l4.500 4.700 8.300-8.600" fill="none" stroke="#24a189" stroke-width="2.700"/></svg>
<svg style="left:310px;top:698.3px" width="13" height="15" viewBox="0 0 13 15"><path d="M2 .6h6l4.400 4.400v7.500a1.500 1.500 0 0 1-1.500 1.500h-8.900a1.500 1.500 0 0 1-1.500-1.500v-10.400a1.500 1.500 0 0 1 1.500-1.500z" fill="#fff" stroke="#4db5a0" stroke-width="1.200"/><path d="M8.200 .8v4h4" fill="none" stroke="#4db5a0" stroke-width=".9"/><path d="M3.500 8h6M3.500 9.800h6M3.500 11.600h6" stroke="#3fae98" stroke-width="1.100"/></svg>
<div class="t " style="left:316.4px;transform:translateX(-50%);top:713.7px;font-size:7.4px;line-height:10px;color:#32a68f;font-weight:500;letter-spacing:.5px;">単元</div>
<div class="b" style="left:329.5px;top:699.3px;width:45.7px;height:15.5px;background:#f0932b;"></div>
<div class="t j" style="left:352.3px;transform:translateX(-50%);top:701.4px;font-size:8px;line-height:11px;color:#fff;">化学</div>
<div class="t " style="left:379.5px;top:701.6px;font-size:10.2px;line-height:14px;color:#333;">高分子化学</div>
<svg style="left:0;top:0" width="1" height="1"><g fill="none" stroke-width="5.300"><path d="M535.99 694.84A15.1 15.1 0 1 1 528.82 723.61" stroke="#f0932b"/><path d="M527.42 722.86A15.1 15.1 0 0 1 522.12 717.47" stroke="#f9d2a6"/><path d="M521.41 716.06A15.1 15.1 0 0 1 534.41 694.84" stroke="#c2c2c2"/></g></svg>
<div class="t " style="left:534.2px;transform:translateX(-50%);top:703.0px;font-size:4.6px;line-height:6px;color:#2a68a8;">あと</div>
<div class="t " style="left:534.7px;transform:translateX(-50%);top:708.5px;font-size:7.4px;line-height:10px;color:#2a68a8;font-weight:700;">8&nbsp;<span style="font-size:4.600px">点</span></div>
<div class="b" style="left:561.7px;top:699.0px;width:5.9px;height:5.8px;background:#f0932b;"></div>
<div class="b" style="left:561.7px;top:714.5px;width:5.9px;height:5.8px;background:#f9d2a6;"></div>
<div class="t " style="left:570.7px;top:695.5px;font-size:8.5px;line-height:12px;color:#666;">得点率(<b style="color:#f0932b">43</b>%)</div>
<div class="t " style="left:570.7px;top:711.3px;font-size:8.5px;line-height:12px;color:#666;">Aライン(<b style="color:#f0932b">67</b>%)</div>
<div class="t j" style="left:660.4px;transform:translateX(-50%);top:698.4px;font-size:10.2px;line-height:14px;color:#1f5f9f;">★★</div>
<div class="b" style="left:687.1px;top:732.8px;width:37.4px;height:46.3px;background:#eef7fd;"></div>
<div class="t " style="left:705.3px;transform:translateX(-50%);top:749.8px;font-size:8.2px;line-height:11px;color:#4d7fae;">80%</div>
<div class="b" style="left:725.5px;top:732.8px;width:37.4px;height:46.3px;background:#d9ecf6;"></div>
<div class="t " style="left:743.7px;transform:translateX(-50%);top:749.8px;font-size:8.2px;line-height:11px;color:#4d7fae;">100%</div>
<div class="b" style="left:763.9px;top:732.8px;width:37.4px;height:46.3px;background:#eef7fd;"></div>
<div class="t " style="left:782.1px;transform:translateX(-50%);top:749.8px;font-size:8.2px;line-height:11px;color:#4d7fae;">80%</div>
<div class="b" style="left:802.3px;top:732.8px;width:37.4px;height:46.3px;background:#fbfdff;"></div>
<div class="t " style="left:820.5px;transform:translateX(-50%);top:749.8px;font-size:8.2px;line-height:11px;color:#4d7fae;">60%</div>
<div class="b" style="left:840.7px;top:732.8px;width:37.4px;height:46.3px;background:#fbfdff;"></div>
<div class="t " style="left:858.9px;transform:translateX(-50%);top:749.8px;font-size:8.2px;line-height:11px;color:#4d7fae;">60%</div>
<div class="b" style="left:879.1px;top:732.8px;width:37.4px;height:46.3px;background:#eef7fd;"></div>
<div class="t " style="left:897.3px;transform:translateX(-50%);top:749.8px;font-size:8.2px;line-height:11px;color:#4d7fae;">80%</div>
<div class="b" style="left:917.5px;top:732.8px;width:37.4px;height:46.3px;background:#e1e1e1;"></div>
<div class="t " style="left:935.7px;transform:translateX(-50%);top:751.1px;font-size:7.4px;line-height:10px;color:#8a8a8a;">—</div>
<div class="b" style="left:955.9px;top:732.8px;width:34.5px;height:46.3px;background:#e1e1e1;"></div>
<div class="t " style="left:974.1px;transform:translateX(-50%);top:751.1px;font-size:7.4px;line-height:10px;color:#8a8a8a;">—</div>
<div class="b" style="left:762.5px;top:732.3px;width:1.8px;height:46.8px;background:#5580b8;"></div>
<div class="b" style="left:916.1px;top:732.3px;width:1.8px;height:46.8px;background:#d9456b;"></div>
<div class="t " style="left:262.6px;transform:translateX(-50%);top:746.7px;font-size:11px;line-height:15px;color:#333;">8</div>
<div class="b" style="left:275.0px;top:744.1px;width:20.3px;height:20.5px;background:#fff;border:1.900px solid #24a189;border-radius:4.800px;"></div>
<svg style="left:275px;top:744.1px" width="20.300" height="20.500" viewBox="0 0 20.300 20.500"><path d="M4 9.600l4.500 4.700 8.300-8.600" fill="none" stroke="#24a189" stroke-width="2.700"/></svg>
<svg style="left:310px;top:745.0px" width="13" height="15" viewBox="0 0 13 15"><path d="M2 .6h6l4.400 4.400v7.500a1.500 1.500 0 0 1-1.500 1.500h-8.900a1.500 1.500 0 0 1-1.500-1.500v-10.400a1.500 1.500 0 0 1 1.500-1.500z" fill="#fff" stroke="#4db5a0" stroke-width="1.200"/><path d="M8.200 .8v4h4" fill="none" stroke="#4db5a0" stroke-width=".9"/><path d="M3.500 8h6M3.500 9.800h6M3.500 11.600h6" stroke="#3fae98" stroke-width="1.100"/></svg>
<div class="t " style="left:316.4px;transform:translateX(-50%);top:760.4px;font-size:7.4px;line-height:10px;color:#32a68f;font-weight:500;letter-spacing:.5px;">単元</div>
<div class="b" style="left:329.5px;top:746.0px;width:45.7px;height:15.5px;background:#f0932b;"></div>
<div class="t j" style="left:352.3px;transform:translateX(-50%);top:748.1px;font-size:8px;line-height:11px;color:#fff;">数学Ⅱ</div>
<div class="t " style="left:379.5px;top:748.3px;font-size:10.2px;line-height:14px;color:#333;">三角関数</div>
<svg style="left:0;top:0" width="1" height="1"><g fill="none" stroke-width="5.300"><path d="M535.99 741.51A15.1 15.1 0 1 1 528.82 770.28" stroke="#f0932b"/><path d="M527.42 769.53A15.1 15.1 0 0 1 522.12 764.14" stroke="#f9d2a6"/><path d="M521.41 762.73A15.1 15.1 0 0 1 534.41 741.51" stroke="#c2c2c2"/></g></svg>
<div class="t " style="left:534.2px;transform:translateX(-50%);top:749.7px;font-size:4.6px;line-height:6px;color:#2a68a8;">あと</div>
<div class="t " style="left:534.7px;transform:translateX(-50%);top:755.2px;font-size:7.4px;line-height:10px;color:#2a68a8;font-weight:700;">8&nbsp;<span style="font-size:4.600px">点</span></div>
<div class="b" style="left:561.7px;top:745.7px;width:5.9px;height:5.8px;background:#f0932b;"></div>
<div class="b" style="left:561.7px;top:761.2px;width:5.9px;height:5.8px;background:#f9d2a6;"></div>
<div class="t " style="left:570.7px;top:742.2px;font-size:8.5px;line-height:12px;color:#666;">得点率(<b style="color:#f0932b">65</b>%)</div>
<div class="t " style="left:570.7px;top:758.0px;font-size:8.5px;line-height:12px;color:#666;">Aライン(<b style="color:#f0932b">67</b>%)</div>
<div class="t j" style="left:660.4px;transform:translateX(-50%);top:745.1px;font-size:10.2px;line-height:14px;color:#1f5f9f;">★★</div>
<div class="b" style="left:687.1px;top:779.5px;width:37.4px;height:46.3px;background:#fbfdff;"></div>
<div class="t " style="left:705.3px;transform:translateX(-50%);top:796.5px;font-size:8.2px;line-height:11px;color:#4d7fae;">60%</div>
<div class="b" style="left:725.5px;top:779.5px;width:37.4px;height:46.3px;background:#eef7fd;"></div>
<div class="t " style="left:743.7px;transform:translateX(-50%);top:796.5px;font-size:8.2px;line-height:11px;color:#4d7fae;">80%</div>
<div class="b" style="left:763.9px;top:779.5px;width:37.4px;height:46.3px;background:#d9ecf6;"></div>
<div class="t " style="left:782.1px;transform:translateX(-50%);top:796.5px;font-size:8.2px;line-height:11px;color:#4d7fae;">100%</div>
<div class="b" style="left:802.3px;top:779.5px;width:37.4px;height:46.3px;background:#eef7fd;"></div>
<div class="t " style="left:820.5px;transform:translateX(-50%);top:796.5px;font-size:8.2px;line-height:11px;color:#4d7fae;">80%</div>
<div class="b" style="left:840.7px;top:779.5px;width:37.4px;height:46.3px;background:#fbfdff;"></div>
<div class="t " style="left:858.9px;transform:translateX(-50%);top:796.5px;font-size:8.2px;line-height:11px;color:#4d7fae;">60%</div>
<div class="b" style="left:879.1px;top:779.5px;width:37.4px;height:46.3px;background:#fffbfc;"></div>
<div class="t " style="left:897.3px;transform:translateX(-50%);top:796.5px;font-size:8.2px;line-height:11px;color:#d9466a;">40%</div>
<div class="b" style="left:917.5px;top:779.5px;width:37.4px;height:46.3px;background:#e1e1e1;"></div>
<div class="t " style="left:935.7px;transform:translateX(-50%);top:797.8px;font-size:7.4px;line-height:10px;color:#8a8a8a;">—</div>
<div class="b" style="left:955.9px;top:779.5px;width:34.5px;height:46.3px;background:#e1e1e1;"></div>
<div class="t " style="left:974.1px;transform:translateX(-50%);top:797.8px;font-size:7.4px;line-height:10px;color:#8a8a8a;">—</div>
<div class="b" style="left:762.5px;top:779.0px;width:1.8px;height:46.8px;background:#5580b8;"></div>
<div class="b" style="left:916.1px;top:779.0px;width:1.8px;height:46.8px;background:#d9456b;"></div>
<div class="t " style="left:262.6px;transform:translateX(-50%);top:793.4px;font-size:11px;line-height:15px;color:#333;">9</div>
<div class="b" style="left:275.0px;top:790.8px;width:20.3px;height:20.5px;background:#fff;border:1.900px solid #24a189;border-radius:4.800px;"></div>
<svg style="left:275px;top:790.8px" width="20.300" height="20.500" viewBox="0 0 20.300 20.500"><path d="M4 9.600l4.500 4.700 8.300-8.600" fill="none" stroke="#24a189" stroke-width="2.700"/></svg>
<svg style="left:310px;top:791.7px" width="13" height="15" viewBox="0 0 13 15"><path d="M2 .6h6l4.400 4.400v7.500a1.500 1.500 0 0 1-1.500 1.500h-8.900a1.500 1.500 0 0 1-1.500-1.500v-10.400a1.500 1.500 0 0 1 1.500-1.500z" fill="#fff" stroke="#4db5a0" stroke-width="1.200"/><path d="M8.200 .8v4h4" fill="none" stroke="#4db5a0" stroke-width=".9"/><path d="M3.500 8h6M3.500 9.800h6M3.500 11.600h6" stroke="#3fae98" stroke-width="1.100"/></svg>
<div class="t " style="left:316.4px;transform:translateX(-50%);top:807.1px;font-size:7.4px;line-height:10px;color:#32a68f;font-weight:500;letter-spacing:.5px;">単元</div>
<div class="b" style="left:329.5px;top:792.7px;width:45.7px;height:15.5px;background:#f0932b;"></div>
<div class="t j" style="left:352.3px;transform:translateX(-50%);top:795.3px;font-size:7px;line-height:10px;color:#fff;letter-spacing:-.3px;">文法・語法</div>
<div class="t " style="left:379.5px;top:795.0px;font-size:10.2px;line-height:14px;color:#333;">文法（接続詞）</div>
<svg style="left:0;top:0" width="1" height="1"><g fill="none" stroke-width="5.300"><path d="M535.99 788.18A15.1 15.1 0 1 1 528.82 816.95" stroke="#f0932b"/><path d="M527.42 816.20A15.1 15.1 0 0 1 522.12 810.81" stroke="#f9d2a6"/><path d="M521.41 809.40A15.1 15.1 0 0 1 534.41 788.18" stroke="#c2c2c2"/></g></svg>
<div class="t " style="left:534.2px;transform:translateX(-50%);top:796.4px;font-size:4.6px;line-height:6px;color:#2a68a8;">あと</div>
<div class="t " style="left:534.7px;transform:translateX(-50%);top:801.9px;font-size:7.4px;line-height:10px;color:#2a68a8;font-weight:700;">7&nbsp;<span style="font-size:4.600px">点</span></div>
<div class="b" style="left:561.7px;top:792.4px;width:5.9px;height:5.8px;background:#f0932b;"></div>
<div class="b" style="left:561.7px;top:807.9px;width:5.9px;height:5.8px;background:#f9d2a6;"></div>
<div class="t " style="left:570.7px;top:788.9px;font-size:8.5px;line-height:12px;color:#666;">得点率(<b style="color:#f0932b">70</b>%)</div>
<div class="t " style="left:570.7px;top:804.7px;font-size:8.5px;line-height:12px;color:#666;">Aライン(<b style="color:#f0932b">67</b>%)</div>
<div class="t j" style="left:660.4px;transform:translateX(-50%);top:791.8px;font-size:10.2px;line-height:14px;color:#1f5f9f;">★</div>
<div class="b" style="left:687.1px;top:826.3px;width:37.4px;height:45.3px;background:#fbfdff;"></div>
<div class="t " style="left:705.3px;transform:translateX(-50%);top:843.1px;font-size:8.2px;line-height:11px;color:#4d7fae;">60%</div>
<div class="b" style="left:725.5px;top:826.3px;width:37.4px;height:45.3px;background:#d9ecf6;"></div>
<div class="t " style="left:743.7px;transform:translateX(-50%);top:843.1px;font-size:8.2px;line-height:11px;color:#4d7fae;">100%</div>
<div class="b" style="left:763.9px;top:826.3px;width:37.4px;height:45.3px;background:#d9ecf6;"></div>
<div class="t " style="left:782.1px;transform:translateX(-50%);top:843.1px;font-size:8.2px;line-height:11px;color:#4d7fae;">100%</div>
<div class="b" style="left:802.3px;top:826.3px;width:37.4px;height:45.3px;background:#eef7fd;"></div>
<div class="t " style="left:820.5px;transform:translateX(-50%);top:843.1px;font-size:8.2px;line-height:11px;color:#4d7fae;">80%</div>
<div class="b" style="left:840.7px;top:826.3px;width:37.4px;height:45.3px;background:#fbfdff;"></div>
<div class="t " style="left:858.9px;transform:translateX(-50%);top:843.1px;font-size:8.2px;line-height:11px;color:#4d7fae;">60%</div>
<div class="b" style="left:879.1px;top:826.3px;width:37.4px;height:45.3px;background:#fffbfc;"></div>
<div class="t " style="left:897.3px;transform:translateX(-50%);top:843.1px;font-size:8.2px;line-height:11px;color:#d9466a;">40%</div>
<div class="b" style="left:917.5px;top:826.3px;width:37.4px;height:45.3px;background:#fdeef3;"></div>
<div class="t " style="left:935.7px;transform:translateX(-50%);top:843.1px;font-size:8.2px;line-height:11px;color:#d9466a;">20%</div>
<div class="b" style="left:955.9px;top:826.3px;width:34.5px;height:45.3px;background:#e1e1e1;"></div>
<div class="t " style="left:974.1px;transform:translateX(-50%);top:844.4px;font-size:7.4px;line-height:10px;color:#8a8a8a;">—</div>
<div class="b" style="left:762.5px;top:825.8px;width:1.8px;height:45.8px;background:#5580b8;"></div>
<div class="b" style="left:916.1px;top:825.8px;width:1.8px;height:45.8px;background:#d9456b;"></div>
<div class="t " style="left:262.6px;transform:translateX(-50%);top:840.0px;font-size:11px;line-height:15px;color:#333;">10</div>
<div class="b" style="left:275.0px;top:837.4px;width:20.3px;height:20.5px;background:#fff;border:1.900px solid #24a189;border-radius:4.800px;"></div>
<svg style="left:275px;top:837.4px" width="20.300" height="20.500" viewBox="0 0 20.300 20.500"><path d="M4 9.600l4.500 4.700 8.300-8.600" fill="none" stroke="#24a189" stroke-width="2.700"/></svg>
<svg style="left:310px;top:838.3px" width="13" height="15" viewBox="0 0 13 15"><path d="M2 .6h6l4.400 4.400v7.500a1.500 1.500 0 0 1-1.500 1.500h-8.900a1.500 1.500 0 0 1-1.500-1.500v-10.400a1.500 1.500 0 0 1 1.500-1.500z" fill="#fff" stroke="#4db5a0" stroke-width="1.200"/><path d="M8.200 .8v4h4" fill="none" stroke="#4db5a0" stroke-width=".9"/><path d="M3.500 8h6M3.500 9.800h6M3.500 11.600h6" stroke="#3fae98" stroke-width="1.100"/></svg>
<div class="t " style="left:316.4px;transform:translateX(-50%);top:853.7px;font-size:7.4px;line-height:10px;color:#32a68f;font-weight:500;letter-spacing:.5px;">単元</div>
<div class="b" style="left:329.5px;top:839.3px;width:45.7px;height:15.5px;background:#f0932b;"></div>
<div class="t j" style="left:352.3px;transform:translateX(-50%);top:841.4px;font-size:8px;line-height:11px;color:#fff;">数学A</div>
<div class="t " style="left:379.5px;top:841.6px;font-size:10.2px;line-height:14px;color:#333;">場合の数</div>
<svg style="left:0;top:0" width="1" height="1"><g fill="none" stroke-width="5.300"><path d="M535.99 834.85A15.1 15.1 0 1 1 528.82 863.62" stroke="#f0932b"/><path d="M527.42 862.87A15.1 15.1 0 0 1 522.12 857.48" stroke="#f9d2a6"/><path d="M521.41 856.07A15.1 15.1 0 0 1 534.41 834.85" stroke="#c2c2c2"/></g></svg>
<div class="t " style="left:534.2px;transform:translateX(-50%);top:843.0px;font-size:4.6px;line-height:6px;color:#2a68a8;">あと</div>
<div class="t " style="left:534.7px;transform:translateX(-50%);top:848.5px;font-size:7.4px;line-height:10px;color:#2a68a8;font-weight:700;">6&nbsp;<span style="font-size:4.600px">点</span></div>
<div class="b" style="left:561.7px;top:839.0px;width:5.9px;height:5.8px;background:#f0932b;"></div>
<div class="b" style="left:561.7px;top:854.5px;width:5.9px;height:5.8px;background:#f9d2a6;"></div>
<div class="t " style="left:570.7px;top:835.5px;font-size:8.5px;line-height:12px;color:#666;">得点率(<b style="color:#f0932b">30</b>%)</div>
<div class="t " style="left:570.7px;top:851.3px;font-size:8.5px;line-height:12px;color:#666;">Aライン(<b style="color:#f0932b">67</b>%)</div>
<div class="t j" style="left:660.4px;transform:translateX(-50%);top:838.4px;font-size:10.2px;line-height:14px;color:#1f5f9f;">★</div>
<div class="b" style="left:253.1px;top:450.7px;width:737.3px;height:2.0px;background:#24a189;"></div>
<div class="b" style="left:253.1px;top:497.5px;width:737.3px;height:2.0px;background:#24a189;"></div>
<div class="b" style="left:253.1px;top:544.2px;width:737.3px;height:2.0px;background:#24a189;"></div>
<div class="b" style="left:253.1px;top:591.0px;width:737.3px;height:2.0px;background:#24a189;"></div>
<div class="b" style="left:253.1px;top:637.7px;width:737.3px;height:2.0px;background:#24a189;"></div>
<div class="b" style="left:253.1px;top:684.5px;width:737.3px;height:2.0px;background:#24a189;"></div>
<div class="b" style="left:253.1px;top:731.3px;width:737.3px;height:2.0px;background:#24a189;"></div>
<div class="b" style="left:253.1px;top:778.0px;width:737.3px;height:2.0px;background:#24a189;"></div>
<div class="b" style="left:253.1px;top:824.8px;width:737.3px;height:2.0px;background:#24a189;"></div>
</body></html>
